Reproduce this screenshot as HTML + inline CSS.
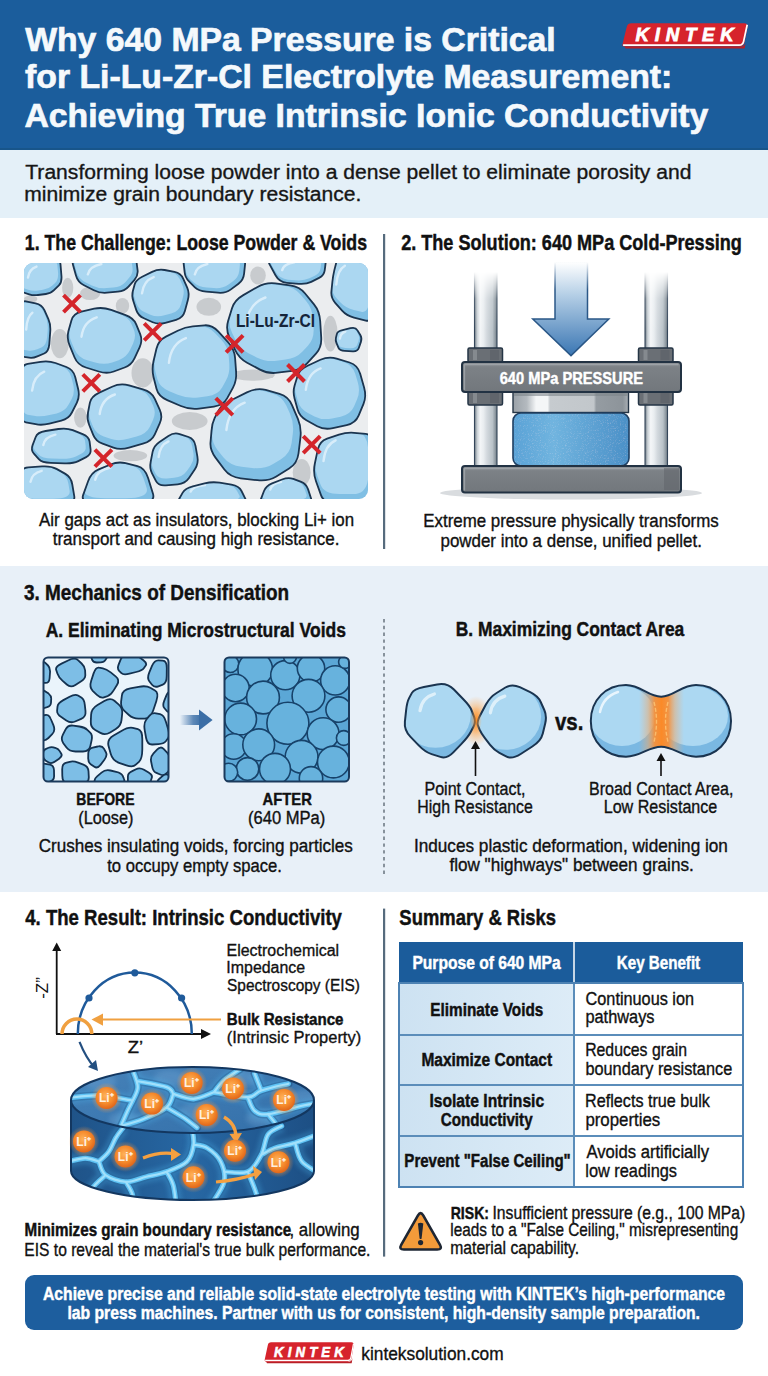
<!DOCTYPE html>
<html><head><meta charset="utf-8"><title>640 MPa Pressure</title>
<style>html,body{margin:0;padding:0;background:#fff;}svg{display:block;}
text{font-family:"Liberation Sans",sans-serif;}</style></head>
<body><svg width="768" height="1376" viewBox="0 0 768 1376">
<defs>
<linearGradient id="pillar" x1="0" y1="0" x2="1" y2="0">
 <stop offset="0" stop-color="#6f7b84"/><stop offset="0.12" stop-color="#c9d0d5"/><stop offset="0.25" stop-color="#f4f6f8"/>
 <stop offset="0.4" stop-color="#e9edf0"/><stop offset="0.55" stop-color="#d3d9de"/><stop offset="0.8" stop-color="#b9c2c8"/><stop offset="0.92" stop-color="#8f9aa2"/><stop offset="1" stop-color="#6a767f"/>
</linearGradient>
<linearGradient id="fadeTop" x1="0" y1="0" x2="0" y2="1">
 <stop offset="0" stop-color="#fff" stop-opacity="0"/><stop offset="0.45" stop-color="#fff" stop-opacity="0.85"/><stop offset="1" stop-color="#fff" stop-opacity="1"/>
</linearGradient>
<mask id="pillarMask" maskUnits="userSpaceOnUse" x="400" y="250" width="300" height="250">
 <rect x="400" y="272" width="300" height="60" fill="url(#fadeTop)"/>
 <rect x="400" y="331" width="300" height="200" fill="#fff"/>
</mask>
<linearGradient id="arrowG" x1="0" y1="0" x2="0" y2="1">
 <stop offset="0" stop-color="#ffffff"/><stop offset="0.35" stop-color="#b5cfe6"/><stop offset="1" stop-color="#3a76b3"/>
</linearGradient>
<linearGradient id="arrowStroke" x1="0" y1="0" x2="0" y2="1">
 <stop offset="0" stop-color="#2a5787" stop-opacity="0"/><stop offset="0.3" stop-color="#2a5787" stop-opacity="1"/><stop offset="1" stop-color="#2a5787"/>
</linearGradient>
<linearGradient id="plateG" x1="0" y1="0" x2="0" y2="1">
 <stop offset="0" stop-color="#8a8f94"/><stop offset="0.2" stop-color="#7c8186"/><stop offset="1" stop-color="#72777c"/>
</linearGradient>
<linearGradient id="dieG" x1="0" y1="0" x2="1" y2="0">
 <stop offset="0" stop-color="#9aa1a7"/><stop offset="0.12" stop-color="#b4babf"/><stop offset="0.2" stop-color="#f4f6f7"/><stop offset="0.3" stop-color="#f4f6f7"/>
 <stop offset="0.32" stop-color="#c6cbcf"/><stop offset="0.7" stop-color="#c2c7cb"/><stop offset="0.72" stop-color="#959ca2"/><stop offset="0.95" stop-color="#8d949a"/><stop offset="1" stop-color="#aab0b5"/>
</linearGradient>
<linearGradient id="pelletG" x1="0" y1="0" x2="1" y2="0">
 <stop offset="0" stop-color="#5aa2d6"/><stop offset="0.35" stop-color="#70b4df"/><stop offset="1" stop-color="#4b90c7"/>
</linearGradient>
<filter id="speckle" x="0" y="0" width="1" height="1">
 <feTurbulence type="fractalNoise" baseFrequency="1.4" numOctaves="1" seed="3" result="n"/>
 <feColorMatrix in="n" type="matrix" values="0 0 0 0 1  0 0 0 0 1  0 0 0 0 1  0 0 0 0.55 -0.3" result="w"/>
 <feComposite in="w" in2="SourceGraphic" operator="in" result="wm"/>
 <feMerge><feMergeNode in="SourceGraphic"/><feMergeNode in="wm"/></feMerge>
</filter>
<linearGradient id="midArrowG" x1="0" y1="0" x2="1" y2="0">
 <stop offset="0" stop-color="#3b6fa8" stop-opacity="0"/><stop offset="0.6" stop-color="#3b6fa8" stop-opacity="0.8"/><stop offset="1" stop-color="#3b6fa8"/>
</linearGradient>
<radialGradient id="glowO" cx="0.5" cy="0.5" r="0.5">
 <stop offset="0" stop-color="#ff8a1e" stop-opacity="0.95"/><stop offset="0.5" stop-color="#ffa040" stop-opacity="0.55"/><stop offset="1" stop-color="#ffb060" stop-opacity="0"/>
</radialGradient>
<linearGradient id="bandO" x1="0" y1="0" x2="1" y2="0">
 <stop offset="0" stop-color="#e8b080" stop-opacity="0"/><stop offset="0.2" stop-color="#eea868" stop-opacity="0.5"/><stop offset="0.35" stop-color="#f5903a" stop-opacity="0.95"/>
 <stop offset="0.5" stop-color="#fb8a28" stop-opacity="1"/><stop offset="0.65" stop-color="#f5903a" stop-opacity="0.95"/><stop offset="0.8" stop-color="#eea868" stop-opacity="0.5"/><stop offset="1" stop-color="#e8b080" stop-opacity="0"/>
</linearGradient>
<linearGradient id="sideG" x1="0" y1="0" x2="1" y2="0">
 <stop offset="0" stop-color="#1f5388"/><stop offset="0.5" stop-color="#2767a3"/><stop offset="1" stop-color="#1d4f84"/>
</linearGradient>
<linearGradient id="topG" x1="0" y1="0" x2="1" y2="1">
 <stop offset="0" stop-color="#4682b9"/><stop offset="1" stop-color="#336fa9"/>
</linearGradient>
<radialGradient id="ionG" cx="0.45" cy="0.4" r="0.6">
 <stop offset="0" stop-color="#ffb35a"/><stop offset="0.6" stop-color="#f58a2c"/><stop offset="1" stop-color="#e0661a"/>
</radialGradient>
<radialGradient id="ionGlow" cx="0.5" cy="0.5" r="0.5">
 <stop offset="0.5" stop-color="#ff9a40" stop-opacity="0.6"/><stop offset="1" stop-color="#ff9a40" stop-opacity="0"/>
</radialGradient>
<filter id="blur1"><feGaussianBlur stdDeviation="1.2"/></filter>
<filter id="blur2"><feGaussianBlur stdDeviation="2.5"/></filter>
<linearGradient id="lobeG" x1="0" y1="0" x2="0" y2="1">
 <stop offset="0" stop-color="#b3dcf3"/><stop offset="0.6" stop-color="#9dcff0"/><stop offset="1" stop-color="#7ab7e0"/>
</linearGradient>
<linearGradient id="hdrCell" x1="0" y1="0" x2="1" y2="0">
 <stop offset="0" stop-color="#cde2f2"/><stop offset="1" stop-color="#ddecf7"/>
</linearGradient>
</defs>
<rect x="0" y="0" width="768" height="1376" fill="#ffffff"/>
<rect x="0" y="0" width="768" height="150" fill="#1b5d9c"/>
<rect x="0" y="148" width="768" height="2" fill="#17507f" opacity="0.6"/>
<rect x="0" y="150" width="768" height="68" fill="#e4f0f8"/>
<rect x="0" y="566" width="768" height="326" fill="#e8f0f8"/>
<text x="25.20" y="50.60" font-size="33.77" font-weight="bold" fill="#f5f9fc" stroke="#f5f9fc" stroke-width="0.7" textLength="530.52" lengthAdjust="spacingAndGlyphs">Why 640 MPa Pressure is Critical</text>
<text x="25.12" y="88.40" font-size="33.77" font-weight="bold" fill="#f5f9fc" stroke="#f5f9fc" stroke-width="0.7" textLength="647.18" lengthAdjust="spacingAndGlyphs">for Li-Lu-Zr-Cl Electrolyte Measurement:</text>
<text x="24.49" y="127.40" font-size="33.77" font-weight="bold" fill="#f5f9fc" stroke="#f5f9fc" stroke-width="0.7" textLength="683.82" lengthAdjust="spacingAndGlyphs">Achieving True Intrinsic Ionic Conductivity</text>
<g transform="translate(622.60,23.30) scale(1.0000,0.9922)"><path d="M9 0 H121.5 Q125.5 0 124.8 4 L122 18.5 Q121.2 23.5 116.5 23.5 H2.2 Q-0.8 23.5 0 20.5 L4.2 3.5 Q5 0 9 0Z" fill="#d6232c"/><path d="M2 23.5 H117.5 Q122.5 23.5 123.3 19 L122 25.5 Q121.5 25.5 117 25.5 H3 Z" fill="#b81f27"/><path d="M0.5 22 H116.5 Q120.3 22 121 18.2 L124.6 1.5" fill="none" stroke="#ffffff" stroke-width="1.7"/><text x="13" y="17.4" font-size="18.6" font-weight="bold" font-style="italic" fill="#fff" stroke="#fff" stroke-width="0.8" textLength="98" lengthAdjust="spacing">KINTEK</text></g>
<text x="25.28" y="179.20" font-size="20.58" font-weight="normal" fill="#161616" stroke="#161616" stroke-width="0.35" textLength="666.19" lengthAdjust="spacingAndGlyphs">Transforming loose powder into a dense pellet to eliminate porosity and</text>
<text x="24.23" y="201.30" font-size="20.58" font-weight="normal" fill="#161616" stroke="#161616" stroke-width="0.35" textLength="337.09" lengthAdjust="spacingAndGlyphs">minimize grain boundary resistance.</text>
<text x="24.84" y="250.00" font-size="22.46" font-weight="bold" fill="#111" stroke="#111" stroke-width="0.45" textLength="342.21" lengthAdjust="spacingAndGlyphs">1. The Challenge: Loose Powder &amp; Voids</text>
<text x="401.16" y="250.00" font-size="22.46" font-weight="bold" fill="#111" stroke="#111" stroke-width="0.45" textLength="340.70" lengthAdjust="spacingAndGlyphs">2. The Solution: 640 MPa Cold-Pressing</text>
<rect x="383" y="234" width="2.2" height="315" fill="#566b7d"/>
<clipPath id="chClip"><rect x="24" y="263" width="344" height="236" rx="9"/></clipPath><g clip-path="url(#chClip)"><rect x="24" y="263" width="344" height="236" fill="#ebedef"/><ellipse cx="67.7" cy="287.8" rx="5.6" ry="10.1" fill="#c8cbce"/><ellipse cx="122.5" cy="305.7" rx="6.7" ry="7.8" fill="#c8cbce"/><ellipse cx="59.8" cy="343.7" rx="9.0" ry="14.6" fill="#c8cbce"/><ellipse cx="208.8" cy="306.8" rx="12.3" ry="9.0" fill="#c8cbce"/><ellipse cx="258.0" cy="275.4" rx="7.8" ry="9.0" fill="#c8cbce"/><ellipse cx="296.1" cy="295.6" rx="7.8" ry="9.0" fill="#c8cbce"/><ellipse cx="142.7" cy="372.9" rx="11.2" ry="14.6" fill="#c8cbce"/><ellipse cx="252.4" cy="375.1" rx="22.4" ry="5.6" fill="#c8cbce"/><ellipse cx="189.7" cy="421.0" rx="17.9" ry="9.0" fill="#c8cbce"/><ellipse cx="80.4" cy="417.6" rx="6.3" ry="10.1" fill="#c8cbce"/><ellipse cx="130.4" cy="455.7" rx="16.8" ry="5.6" fill="#c8cbce"/><ellipse cx="286.5" cy="438.9" rx="6.3" ry="11.2" fill="#c8cbce"/><ellipse cx="330.4" cy="333.7" rx="7.2" ry="17.9" fill="#c8cbce"/><ellipse cx="301.7" cy="472.5" rx="9.0" ry="13.4" fill="#c8cbce"/><ellipse cx="30.7" cy="299.0" rx="6.7" ry="3.4" fill="#c8cbce"/><ellipse cx="90.1" cy="293.4" rx="10.1" ry="6.7" fill="#c8cbce"/><clipPath id="chp0"><path d="M19.5 266.9Q19.5 257.5 30.8 257.5L48.5 257.5Q59.8 257.5 60.5 264.4L61.4 275.3Q62.1 282.2 58.9 285.3L54.0 290.2Q50.9 293.4 45.9 294.0L38.0 295.0Q33.0 295.6 29.2 294.3L23.3 292.4Q19.5 291.1 19.5 281.7Z"/></clipPath><path d="M19.5 266.9Q19.5 257.5 30.8 257.5L48.5 257.5Q59.8 257.5 60.5 264.4L61.4 275.3Q62.1 282.2 58.9 285.3L54.0 290.2Q50.9 293.4 45.9 294.0L38.0 295.0Q33.0 295.6 29.2 294.3L23.3 292.4Q19.5 291.1 19.5 281.7Z" fill="#80bfe4"/><g clip-path="url(#chp0)"><path d="M20.4 268.4Q20.4 258.3 33.1 258.3L44.0 258.3Q56.7 258.3 57.4 265.7L58.0 272.1Q58.7 279.5 55.1 282.9L52.1 285.8Q48.6 289.1 42.9 289.8L38.1 290.4Q32.5 291.1 28.2 289.7L24.6 288.6Q20.4 287.2 20.4 277.1Z" fill="#abd7f1"/><path d="M28.0 277.6 Q29.1 269.1 36.5 266.6" stroke="#e3f3fc" stroke-width="2.4" fill="none" stroke-linecap="round" opacity="0.8"/></g><path d="M19.5 266.9Q19.5 257.5 30.8 257.5L48.5 257.5Q59.8 257.5 60.5 264.4L61.4 275.3Q62.1 282.2 58.9 285.3L54.0 290.2Q50.9 293.4 45.9 294.0L38.0 295.0Q33.0 295.6 29.2 294.3L23.3 292.4Q19.5 291.1 19.5 281.7Z" fill="none" stroke="#1b3550" stroke-width="1.8" stroke-linejoin="round"/><clipPath id="chp1"><path d="M72.9 264.4Q71.0 257.5 89.2 257.5L117.8 257.5Q136.0 257.5 136.6 262.5L137.6 270.4Q138.2 275.4 134.5 279.8L128.5 286.7Q124.8 291.1 117.9 291.7L107.0 292.7Q100.1 293.4 93.9 290.2L84.0 285.3Q77.7 282.2 75.9 275.3Z"/></clipPath><path d="M72.9 264.4Q71.0 257.5 89.2 257.5L117.8 257.5Q136.0 257.5 136.6 262.5L137.6 270.4Q138.2 275.4 134.5 279.8L128.5 286.7Q124.8 291.1 117.9 291.7L107.0 292.7Q100.1 293.4 93.9 290.2L84.0 285.3Q77.7 282.2 75.9 275.3Z" fill="#80bfe4"/><g clip-path="url(#chp1)"><path d="M74.8 265.4Q72.7 258.0 93.2 258.0L110.7 258.0Q131.2 258.0 131.9 263.4L132.5 268.0Q133.2 273.4 128.9 278.1L125.3 282.2Q121.1 286.9 113.3 287.5L106.7 288.1Q98.9 288.8 91.9 285.4L85.8 282.5Q78.8 279.2 76.6 271.8Z" fill="#abd7f1"/><path d="M87.8 274.4 Q89.5 266.3 101.3 264.0" stroke="#e3f3fc" stroke-width="2.4" fill="none" stroke-linecap="round" opacity="0.8"/></g><path d="M72.9 264.4Q71.0 257.5 89.2 257.5L117.8 257.5Q136.0 257.5 136.6 262.5L137.6 270.4Q138.2 275.4 134.5 279.8L128.5 286.7Q124.8 291.1 117.9 291.7L107.0 292.7Q100.1 293.4 93.9 290.2L84.0 285.3Q77.7 282.2 75.9 275.3Z" fill="none" stroke="#1b3550" stroke-width="1.8" stroke-linejoin="round"/><clipPath id="chp2"><path d="M134.7 284.3Q136.0 279.9 142.2 276.8L152.1 271.9Q158.4 268.7 164.6 270.0L174.5 271.9Q180.8 273.2 183.3 278.8L187.2 287.7Q189.7 293.4 187.8 300.3L184.9 311.1Q183.0 318.0 176.1 319.9L165.3 322.8Q158.4 324.7 152.7 322.2L143.9 318.3Q138.2 315.7 136.3 310.1L133.4 301.2Q131.5 295.6 132.8 291.2Z"/></clipPath><path d="M134.7 284.3Q136.0 279.9 142.2 276.8L152.1 271.9Q158.4 268.7 164.6 270.0L174.5 271.9Q180.8 273.2 183.3 278.8L187.2 287.7Q189.7 293.4 187.8 300.3L184.9 311.1Q183.0 318.0 176.1 319.9L165.3 322.8Q158.4 324.7 152.7 322.2L143.9 318.3Q138.2 315.7 136.3 310.1L133.4 301.2Q131.5 295.6 132.8 291.2Z" fill="#80bfe4"/><g clip-path="url(#chp2)"><path d="M135.2 283.5Q136.6 278.8 143.6 275.5L149.7 272.6Q156.7 269.2 163.8 270.5L169.8 271.7Q176.9 273.1 179.7 279.1L182.1 284.3Q185.0 290.4 182.8 297.8L181.0 304.2Q178.9 311.6 171.1 313.6L164.5 315.3Q156.7 317.4 150.4 314.7L144.9 312.3Q138.6 309.6 136.5 303.6L134.7 298.4Q132.6 292.3 134.0 287.6Z" fill="#abd7f1"/><path d="M142.0 293.4 Q143.5 280.8 153.7 277.1" stroke="#e3f3fc" stroke-width="2.4" fill="none" stroke-linecap="round" opacity="0.8"/></g><path d="M134.7 284.3Q136.0 279.9 142.2 276.8L152.1 271.9Q158.4 268.7 164.6 270.0L174.5 271.9Q180.8 273.2 183.3 278.8L187.2 287.7Q189.7 293.4 187.8 300.3L184.9 311.1Q183.0 318.0 176.1 319.9L165.3 322.8Q158.4 324.7 152.7 322.2L143.9 318.3Q138.2 315.7 136.3 310.1L133.4 301.2Q131.5 295.6 132.8 291.2Z" fill="none" stroke="#1b3550" stroke-width="1.8" stroke-linejoin="round"/><clipPath id="chp3"><path d="M183.6 263.2Q183.0 257.5 200.6 257.5L228.2 257.5Q245.7 257.5 245.1 263.8L244.1 273.6Q243.5 279.9 238.5 283.7L230.6 289.6Q225.6 293.4 218.0 292.7L206.2 291.7Q198.7 291.1 194.9 287.4L189.0 281.4Q185.2 277.7 184.6 272.0Z"/></clipPath><path d="M183.6 263.2Q183.0 257.5 200.6 257.5L228.2 257.5Q245.7 257.5 245.1 263.8L244.1 273.6Q243.5 279.9 238.5 283.7L230.6 289.6Q225.6 293.4 218.0 292.7L206.2 291.7Q198.7 291.1 194.9 287.4L189.0 281.4Q185.2 277.7 184.6 272.0Z" fill="#80bfe4"/><g clip-path="url(#chp3)"><path d="M184.9 264.1Q184.2 258.0 203.9 258.0L220.9 258.0Q240.6 258.0 239.9 264.7L239.3 270.5Q238.6 277.2 233.0 281.3L228.1 284.8Q222.5 288.8 214.0 288.1L206.8 287.5Q198.3 286.9 194.1 282.8L190.4 279.4Q186.2 275.3 185.5 269.3Z" fill="#abd7f1"/><path d="M194.8 274.4 Q196.4 266.3 207.3 264.0" stroke="#e3f3fc" stroke-width="2.4" fill="none" stroke-linecap="round" opacity="0.8"/></g><path d="M183.6 263.2Q183.0 257.5 200.6 257.5L228.2 257.5Q245.7 257.5 245.1 263.8L244.1 273.6Q243.5 279.9 238.5 283.7L230.6 289.6Q225.6 293.4 218.0 292.7L206.2 291.7Q198.7 291.1 194.9 287.4L189.0 281.4Q185.2 277.7 184.6 272.0Z" fill="none" stroke="#1b3550" stroke-width="1.8" stroke-linejoin="round"/><clipPath id="chp4"><path d="M269.6 264.4Q265.9 257.5 282.8 257.5L309.4 257.5Q326.3 257.5 325.7 262.5L324.7 270.4Q324.1 275.4 319.1 277.9L311.2 281.9Q306.2 284.4 298.7 283.8L286.8 282.8Q279.3 282.2 275.5 275.3Z"/></clipPath><path d="M269.6 264.4Q265.9 257.5 282.8 257.5L309.4 257.5Q326.3 257.5 325.7 262.5L324.7 270.4Q324.1 275.4 319.1 277.9L311.2 281.9Q306.2 284.4 298.7 283.8L286.8 282.8Q279.3 282.2 275.5 275.3Z" fill="#80bfe4"/><g clip-path="url(#chp4)"><path d="M271.7 265.3Q267.5 257.9 286.6 257.9L302.9 257.9Q321.9 257.9 321.2 263.2L320.6 267.9Q319.9 273.3 314.3 276.0L309.4 278.3Q303.8 281.0 295.3 280.3L288.1 279.7Q279.6 279.0 275.4 271.6Z" fill="#abd7f1"/><path d="M282.2 270.1 Q283.7 264.0 294.3 262.3" stroke="#e3f3fc" stroke-width="2.4" fill="none" stroke-linecap="round" opacity="0.8"/></g><path d="M269.6 264.4Q265.9 257.5 282.8 257.5L309.4 257.5Q326.3 257.5 325.7 262.5L324.7 270.4Q324.1 275.4 319.1 277.9L311.2 281.9Q306.2 284.4 298.7 283.8L286.8 282.8Q279.3 282.2 275.5 275.3Z" fill="none" stroke="#1b3550" stroke-width="1.8" stroke-linejoin="round"/><clipPath id="chp5"><path d="M336.3 262.5Q337.5 257.5 347.6 257.5L363.3 257.5Q373.4 257.5 373.4 275.7L373.4 304.3Q373.4 322.5 365.8 320.6L354.0 317.6Q346.5 315.7 342.1 310.7L335.2 302.8Q330.8 297.8 331.4 291.6L332.4 281.7Q333.1 275.4 334.3 270.4Z"/></clipPath><path d="M336.3 262.5Q337.5 257.5 347.6 257.5L363.3 257.5Q373.4 257.5 373.4 275.7L373.4 304.3Q373.4 322.5 365.8 320.6L354.0 317.6Q346.5 315.7 342.1 310.7L335.2 302.8Q330.8 297.8 331.4 291.6L332.4 281.7Q333.1 275.4 334.3 270.4Z" fill="#80bfe4"/><g clip-path="url(#chp5)"><path d="M336.0 263.2Q337.4 257.9 348.7 257.9L358.4 257.9Q369.7 257.9 369.7 277.4L369.7 294.2Q369.7 313.7 361.2 311.7L353.9 310.0Q345.5 307.9 340.5 302.5L336.3 297.9Q331.4 292.5 332.1 285.8L332.7 280.0Q333.4 273.3 334.8 267.9Z" fill="#abd7f1"/><path d="M336.3 284.5 Q337.4 269.9 344.9 265.7" stroke="#e3f3fc" stroke-width="2.4" fill="none" stroke-linecap="round" opacity="0.8"/></g><path d="M336.3 262.5Q337.5 257.5 347.6 257.5L363.3 257.5Q373.4 257.5 373.4 275.7L373.4 304.3Q373.4 322.5 365.8 320.6L354.0 317.6Q346.5 315.7 342.1 310.7L335.2 302.8Q330.8 297.8 331.4 291.6L332.4 281.7Q333.1 275.4 334.3 270.4Z" fill="none" stroke="#1b3550" stroke-width="1.8" stroke-linejoin="round"/><clipPath id="chp6"><path d="M19.5 315.7Q19.5 300.1 25.8 301.3L35.6 303.3Q41.9 304.6 44.4 310.2L48.4 319.1Q50.9 324.7 50.2 332.2L49.3 344.1Q48.6 351.6 44.2 353.5L37.3 356.4Q33.0 358.3 29.2 357.7L23.3 356.7Q19.5 356.1 19.5 340.4Z"/></clipPath><path d="M19.5 315.7Q19.5 300.1 25.8 301.3L35.6 303.3Q41.9 304.6 44.4 310.2L48.4 319.1Q50.9 324.7 50.2 332.2L49.3 344.1Q48.6 351.6 44.2 353.5L37.3 356.4Q33.0 358.3 29.2 357.7L23.3 356.7Q19.5 356.1 19.5 340.4Z" fill="#80bfe4"/><g clip-path="url(#chp6)"><path d="M20.2 318.0Q20.2 301.1 27.2 302.5L33.3 303.6Q40.3 305.0 43.2 311.0L45.6 316.2Q48.4 322.3 47.7 330.4L47.1 337.3Q46.4 345.4 41.4 347.4L37.2 349.2Q32.3 351.2 28.0 350.5L24.4 349.9Q20.2 349.3 20.2 332.4Z" fill="#abd7f1"/><path d="M26.2 329.6 Q26.9 316.5 32.4 312.7" stroke="#e3f3fc" stroke-width="2.4" fill="none" stroke-linecap="round" opacity="0.8"/></g><path d="M19.5 315.7Q19.5 300.1 25.8 301.3L35.6 303.3Q41.9 304.6 44.4 310.2L48.4 319.1Q50.9 324.7 50.2 332.2L49.3 344.1Q48.6 351.6 44.2 353.5L37.3 356.4Q33.0 358.3 29.2 357.7L23.3 356.7Q19.5 356.1 19.5 340.4Z" fill="none" stroke="#1b3550" stroke-width="1.8" stroke-linejoin="round"/><clipPath id="chp7"><path d="M71.4 320.4Q73.3 313.5 81.4 311.6L94.2 308.7Q102.4 306.8 111.2 309.9L125.0 314.9Q133.7 318.0 136.2 324.3L140.2 334.1Q142.7 340.4 139.6 347.3L134.6 358.1Q131.5 365.0 124.6 367.5L113.8 371.5Q106.9 374.0 98.7 371.5L85.9 367.5Q77.7 365.0 74.6 357.5L69.7 345.7Q66.6 338.1 68.4 331.2Z"/></clipPath><path d="M71.4 320.4Q73.3 313.5 81.4 311.6L94.2 308.7Q102.4 306.8 111.2 309.9L125.0 314.9Q133.7 318.0 136.2 324.3L140.2 334.1Q142.7 340.4 139.6 347.3L134.6 358.1Q131.5 365.0 124.6 367.5L113.8 371.5Q106.9 374.0 98.7 371.5L85.9 367.5Q77.7 365.0 74.6 357.5L69.7 345.7Q66.6 338.1 68.4 331.2Z" fill="#80bfe4"/><g clip-path="url(#chp7)"><path d="M72.0 320.6Q74.1 313.2 83.3 311.2L91.1 309.4Q100.3 307.4 110.2 310.8L118.6 313.7Q128.5 317.1 131.3 323.8L133.8 329.6Q136.6 336.3 133.0 343.7L130.0 350.1Q126.5 357.5 118.7 360.2L112.1 362.5Q104.3 365.2 95.2 362.5L87.3 360.2Q78.1 357.5 74.6 349.4L71.6 342.5Q68.0 334.4 70.2 327.0Z" fill="#abd7f1"/><path d="M81.5 336.7 Q83.4 321.6 96.7 317.3" stroke="#e3f3fc" stroke-width="2.4" fill="none" stroke-linecap="round" opacity="0.8"/></g><path d="M71.4 320.4Q73.3 313.5 81.4 311.6L94.2 308.7Q102.4 306.8 111.2 309.9L125.0 314.9Q133.7 318.0 136.2 324.3L140.2 334.1Q142.7 340.4 139.6 347.3L134.6 358.1Q131.5 365.0 124.6 367.5L113.8 371.5Q106.9 374.0 98.7 371.5L85.9 367.5Q77.7 365.0 74.6 357.5L69.7 345.7Q66.6 338.1 68.4 331.2Z" fill="none" stroke="#1b3550" stroke-width="1.8" stroke-linejoin="round"/><clipPath id="chp8"><path d="M232.0 308.2Q234.5 300.1 243.3 295.1L257.1 287.2Q265.9 282.2 275.3 283.4L290.1 285.4Q299.5 286.6 305.1 293.5L314.0 304.4Q319.6 311.3 320.2 321.3L321.2 337.1Q321.9 347.1 316.2 353.4L307.3 363.2Q301.7 369.5 292.3 370.8L277.5 372.7Q268.1 374.0 260.0 369.6L247.1 362.7Q239.0 358.3 235.2 350.1L229.3 337.3Q225.6 329.2 228.1 321.0Z"/></clipPath><path d="M232.0 308.2Q234.5 300.1 243.3 295.1L257.1 287.2Q265.9 282.2 275.3 283.4L290.1 285.4Q299.5 286.6 305.1 293.5L314.0 304.4Q319.6 311.3 320.2 321.3L321.2 337.1Q321.9 347.1 316.2 353.4L307.3 363.2Q301.7 369.5 292.3 370.8L277.5 372.7Q268.1 374.0 260.0 369.6L247.1 362.7Q239.0 358.3 235.2 350.1L229.3 337.3Q225.6 329.2 228.1 321.0Z" fill="#80bfe4"/><g clip-path="url(#chp8)"><path d="M232.9 307.3Q235.7 298.6 245.6 293.2L254.0 288.6Q263.9 283.2 274.5 284.5L283.6 285.7Q294.1 287.0 300.5 294.4L305.9 300.8Q312.3 308.2 313.0 319.0L313.6 328.2Q314.3 339.0 307.9 345.8L302.5 351.5Q296.2 358.3 285.6 359.6L276.5 360.8Q265.9 362.1 256.7 357.4L248.9 353.4Q239.7 348.6 235.5 339.9L231.9 332.4Q227.6 323.6 230.4 314.8Z" fill="#abd7f1"/><path d="M246.2 324.1 Q248.6 303.4 265.4 297.5" stroke="#e3f3fc" stroke-width="2.4" fill="none" stroke-linecap="round" opacity="0.8"/></g><path d="M232.0 308.2Q234.5 300.1 243.3 295.1L257.1 287.2Q265.9 282.2 275.3 283.4L290.1 285.4Q299.5 286.6 305.1 293.5L314.0 304.4Q319.6 311.3 320.2 321.3L321.2 337.1Q321.9 347.1 316.2 353.4L307.3 363.2Q301.7 369.5 292.3 370.8L277.5 372.7Q268.1 374.0 260.0 369.6L247.1 362.7Q239.0 358.3 235.2 350.1L229.3 337.3Q225.6 329.2 228.1 321.0Z" fill="none" stroke="#1b3550" stroke-width="1.8" stroke-linejoin="round"/><clipPath id="chp9"><path d="M336.9 333.9Q337.5 331.4 342.6 330.2L350.4 328.2Q355.5 326.9 357.3 330.1L360.3 335.0Q362.2 338.1 360.9 341.9L358.9 347.8Q357.7 351.6 352.7 351.3L344.8 350.9Q339.8 350.7 338.5 347.8L336.6 343.3Q335.3 340.4 335.9 337.9Z"/></clipPath><path d="M336.9 333.9Q337.5 331.4 342.6 330.2L350.4 328.2Q355.5 326.9 357.3 330.1L360.3 335.0Q362.2 338.1 360.9 341.9L358.9 347.8Q357.7 351.6 352.7 351.3L344.8 350.9Q339.8 350.7 338.5 347.8L336.6 343.3Q335.3 340.4 335.9 337.9Z" fill="#80bfe4"/><g clip-path="url(#chp9)"><path d="M337.1 333.8Q337.8 331.1 343.4 329.8L348.3 328.6Q353.9 327.3 356.0 330.6L357.8 333.5Q359.9 336.9 358.5 341.0L357.3 344.4Q355.9 348.5 350.3 348.2L345.4 348.0Q339.8 347.7 338.4 344.6L337.2 341.9Q335.8 338.8 336.5 336.1Z" fill="#abd7f1"/><path d="M339.9 338.6 Q340.6 333.1 345.3 331.5" stroke="#e3f3fc" stroke-width="2.4" fill="none" stroke-linecap="round" opacity="0.8"/></g><path d="M336.9 333.9Q337.5 331.4 342.6 330.2L350.4 328.2Q355.5 326.9 357.3 330.1L360.3 335.0Q362.2 338.1 360.9 341.9L358.9 347.8Q357.7 351.6 352.7 351.3L344.8 350.9Q339.8 350.7 338.5 347.8L336.6 343.3Q335.3 340.4 335.9 337.9Z" fill="none" stroke="#1b3550" stroke-width="1.8" stroke-linejoin="round"/><clipPath id="chp10"><path d="M156.5 348.5Q158.4 340.4 165.9 336.6L177.7 330.7Q185.2 326.9 192.8 326.3L204.6 325.3Q212.1 324.7 218.4 331.6L228.2 342.4Q234.5 349.3 235.1 358.1L236.1 371.9Q236.8 380.7 233.0 387.6L227.1 398.4Q223.3 405.3 213.9 406.6L199.1 408.6Q189.7 409.8 180.9 406.0L167.2 400.1Q158.4 396.4 156.5 388.8L153.5 377.0Q151.7 369.5 153.5 361.3Z"/></clipPath><path d="M156.5 348.5Q158.4 340.4 165.9 336.6L177.7 330.7Q185.2 326.9 192.8 326.3L204.6 325.3Q212.1 324.7 218.4 331.6L228.2 342.4Q234.5 349.3 235.1 358.1L236.1 371.9Q236.8 380.7 233.0 387.6L227.1 398.4Q223.3 405.3 213.9 406.6L199.1 408.6Q189.7 409.8 180.9 406.0L167.2 400.1Q158.4 396.4 156.5 388.8L153.5 377.0Q151.7 369.5 153.5 361.3Z" fill="#80bfe4"/><g clip-path="url(#chp10)"><path d="M157.3 347.8Q159.4 339.0 167.9 335.0L175.1 331.5Q183.6 327.4 192.1 326.8L199.3 326.2Q207.8 325.5 214.9 332.9L220.9 339.3Q228.0 346.7 228.7 356.1L229.3 364.2Q230.0 373.7 225.7 381.1L222.1 387.4Q217.9 394.9 207.3 396.2L198.2 397.4Q187.6 398.7 177.8 394.7L169.3 391.2Q159.4 387.2 157.3 379.1L155.5 372.1Q153.4 364.0 155.5 355.3Z" fill="#abd7f1"/><path d="M168.9 362.8 Q171.1 343.6 185.9 338.1" stroke="#e3f3fc" stroke-width="2.4" fill="none" stroke-linecap="round" opacity="0.8"/></g><path d="M156.5 348.5Q158.4 340.4 165.9 336.6L177.7 330.7Q185.2 326.9 192.8 326.3L204.6 325.3Q212.1 324.7 218.4 331.6L228.2 342.4Q234.5 349.3 235.1 358.1L236.1 371.9Q236.8 380.7 233.0 387.6L227.1 398.4Q223.3 405.3 213.9 406.6L199.1 408.6Q189.7 409.8 180.9 406.0L167.2 400.1Q158.4 396.4 156.5 388.8L153.5 377.0Q151.7 369.5 153.5 361.3Z" fill="none" stroke="#1b3550" stroke-width="1.8" stroke-linejoin="round"/><clipPath id="chp11"><path d="M19.5 380.7Q19.5 365.0 27.7 363.8L40.5 361.8Q48.6 360.5 55.5 363.0L66.4 367.0Q73.3 369.5 75.2 377.0L78.1 388.8Q80.0 396.4 76.9 402.6L71.9 412.5Q68.8 418.8 61.3 420.6L49.4 423.6Q41.9 425.5 35.6 424.2L25.8 422.3Q19.5 421.0 19.5 405.3Z"/></clipPath><path d="M19.5 380.7Q19.5 365.0 27.7 363.8L40.5 361.8Q48.6 360.5 55.5 363.0L66.4 367.0Q73.3 369.5 75.2 377.0L78.1 388.8Q80.0 396.4 76.9 402.6L71.9 412.5Q68.8 418.8 61.3 420.6L49.4 423.6Q41.9 425.5 35.6 424.2L25.8 422.3Q19.5 421.0 19.5 405.3Z" fill="#80bfe4"/><g clip-path="url(#chp11)"><path d="M20.8 382.0Q20.8 365.2 29.9 363.8L37.8 362.6Q47.0 361.3 54.7 364.0L61.4 366.3Q69.2 369.0 71.3 377.1L73.1 384.0Q75.2 392.1 71.7 398.9L68.6 404.6Q65.1 411.4 56.7 413.4L49.4 415.1Q40.9 417.2 33.9 415.8L27.8 414.7Q20.8 413.3 20.8 396.5Z" fill="#abd7f1"/><path d="M32.1 390.6 Q33.6 376.0 44.2 371.7" stroke="#e3f3fc" stroke-width="2.4" fill="none" stroke-linecap="round" opacity="0.8"/></g><path d="M19.5 380.7Q19.5 365.0 27.7 363.8L40.5 361.8Q48.6 360.5 55.5 363.0L66.4 367.0Q73.3 369.5 75.2 377.0L78.1 388.8Q80.0 396.4 76.9 402.6L71.9 412.5Q68.8 418.8 61.3 420.6L49.4 423.6Q41.9 425.5 35.6 424.2L25.8 422.3Q19.5 421.0 19.5 405.3Z" fill="none" stroke="#1b3550" stroke-width="1.8" stroke-linejoin="round"/><clipPath id="chp12"><path d="M89.9 402.6Q91.2 396.4 99.3 392.6L112.1 386.7Q120.3 382.9 129.1 385.4L142.9 389.4Q151.7 391.9 154.8 398.8L159.7 409.6Q162.9 416.5 159.7 423.4L154.8 434.3Q151.7 441.2 142.9 443.7L129.1 447.6Q120.3 450.1 113.4 447.6L102.6 443.7Q95.7 441.2 93.2 434.9L89.2 425.0Q86.7 418.8 88.0 412.5Z"/></clipPath><path d="M89.9 402.6Q91.2 396.4 99.3 392.6L112.1 386.7Q120.3 382.9 129.1 385.4L142.9 389.4Q151.7 391.9 154.8 398.8L159.7 409.6Q162.9 416.5 159.7 423.4L154.8 434.3Q151.7 441.2 142.9 443.7L129.1 447.6Q120.3 450.1 113.4 447.6L102.6 443.7Q95.7 441.2 93.2 434.9L89.2 425.0Q86.7 418.8 88.0 412.5Z" fill="#80bfe4"/><g clip-path="url(#chp12)"><path d="M90.6 402.0Q92.0 395.3 101.2 391.2L109.1 387.8Q118.2 383.7 128.1 386.4L136.6 388.7Q146.5 391.4 150.0 398.8L153.0 405.2Q156.5 412.6 153.0 420.0L150.0 426.4Q146.5 433.8 136.6 436.5L128.1 438.8Q118.2 441.5 110.5 438.8L103.8 436.5Q96.1 433.8 93.2 427.1L90.8 421.3Q88.0 414.5 89.4 407.8Z" fill="#abd7f1"/><path d="M99.7 414.0 Q101.6 398.9 114.9 394.5" stroke="#e3f3fc" stroke-width="2.4" fill="none" stroke-linecap="round" opacity="0.8"/></g><path d="M89.9 402.6Q91.2 396.4 99.3 392.6L112.1 386.7Q120.3 382.9 129.1 385.4L142.9 389.4Q151.7 391.9 154.8 398.8L159.7 409.6Q162.9 416.5 159.7 423.4L154.8 434.3Q151.7 441.2 142.9 443.7L129.1 447.6Q120.3 450.1 113.4 447.6L102.6 443.7Q95.7 441.2 93.2 434.9L89.2 425.0Q86.7 418.8 88.0 412.5Z" fill="none" stroke="#1b3550" stroke-width="1.8" stroke-linejoin="round"/><clipPath id="chp13"><path d="M297.6 375.8Q299.5 369.5 307.6 365.7L320.4 359.8Q328.6 356.1 336.7 358.6L349.5 362.5Q357.7 365.0 360.2 373.8L364.1 387.6Q366.6 396.4 363.5 403.9L358.6 415.7Q355.5 423.2 346.7 425.1L332.9 428.1Q324.1 430.0 317.2 426.2L306.4 420.3Q299.5 416.5 297.6 409.6L294.6 398.8Q292.7 391.9 294.6 385.6Z"/></clipPath><path d="M297.6 375.8Q299.5 369.5 307.6 365.7L320.4 359.8Q328.6 356.1 336.7 358.6L349.5 362.5Q357.7 365.0 360.2 373.8L364.1 387.6Q366.6 396.4 363.5 403.9L358.6 415.7Q355.5 423.2 346.7 425.1L332.9 428.1Q324.1 430.0 317.2 426.2L306.4 420.3Q299.5 416.5 297.6 409.6L294.6 398.8Q292.7 391.9 294.6 385.6Z" fill="#80bfe4"/><g clip-path="url(#chp13)"><path d="M298.0 375.2Q300.1 368.4 309.3 364.4L317.1 360.9Q326.3 356.9 335.5 359.6L343.3 361.9Q352.5 364.6 355.3 374.0L357.7 382.1Q360.6 391.5 357.0 399.6L354.0 406.6Q350.5 414.7 340.6 416.7L332.1 418.4Q322.3 420.4 314.5 416.4L307.9 412.9Q300.1 408.9 298.0 401.5L296.2 395.1Q294.1 387.7 296.2 381.0Z" fill="#abd7f1"/><path d="M305.8 389.9 Q307.7 373.2 320.6 368.4" stroke="#e3f3fc" stroke-width="2.4" fill="none" stroke-linecap="round" opacity="0.8"/></g><path d="M297.6 375.8Q299.5 369.5 307.6 365.7L320.4 359.8Q328.6 356.1 336.7 358.6L349.5 362.5Q357.7 365.0 360.2 373.8L364.1 387.6Q366.6 396.4 363.5 403.9L358.6 415.7Q355.5 423.2 346.7 425.1L332.9 428.1Q324.1 430.0 317.2 426.2L306.4 420.3Q299.5 416.5 297.6 409.6L294.6 398.8Q292.7 391.9 294.6 385.6Z" fill="none" stroke="#1b3550" stroke-width="1.8" stroke-linejoin="round"/><clipPath id="chp14"><path d="M218.6 410.3Q221.1 405.3 231.1 400.3L246.9 392.4Q256.9 387.4 265.7 389.9L279.5 393.9Q288.3 396.4 292.0 405.2L297.9 418.9Q301.7 427.7 300.4 437.8L298.5 453.5Q297.2 463.6 289.1 468.6L276.3 476.5Q268.1 481.5 257.4 480.2L240.7 478.3Q230.0 477.0 224.4 469.5L215.5 457.6Q209.9 450.1 210.5 442.6L211.5 430.8Q212.1 423.2 214.6 418.2Z"/></clipPath><path d="M218.6 410.3Q221.1 405.3 231.1 400.3L246.9 392.4Q256.9 387.4 265.7 389.9L279.5 393.9Q288.3 396.4 292.0 405.2L297.9 418.9Q301.7 427.7 300.4 437.8L298.5 453.5Q297.2 463.6 289.1 468.6L276.3 476.5Q268.1 481.5 257.4 480.2L240.7 478.3Q230.0 477.0 224.4 469.5L215.5 457.6Q209.9 450.1 210.5 442.6L211.5 430.8Q212.1 423.2 214.6 418.2Z" fill="#80bfe4"/><g clip-path="url(#chp14)"><path d="M218.8 409.2Q221.6 403.8 232.9 398.4L242.6 393.8Q253.9 388.4 263.7 391.1L272.2 393.4Q282.1 396.1 286.3 405.5L289.9 413.6Q294.2 423.1 292.8 433.8L291.6 443.1Q290.1 453.9 281.0 459.3L273.1 463.9Q263.9 469.3 251.9 467.9L241.7 466.8Q229.7 465.4 223.3 457.3L217.9 450.4Q211.5 442.3 212.2 434.2L212.8 427.3Q213.5 419.2 216.4 413.8Z" fill="#abd7f1"/><path d="M226.4 430.0 Q228.7 408.8 244.7 402.7" stroke="#e3f3fc" stroke-width="2.4" fill="none" stroke-linecap="round" opacity="0.8"/></g><path d="M218.6 410.3Q221.1 405.3 231.1 400.3L246.9 392.4Q256.9 387.4 265.7 389.9L279.5 393.9Q288.3 396.4 292.0 405.2L297.9 418.9Q301.7 427.7 300.4 437.8L298.5 453.5Q297.2 463.6 289.1 468.6L276.3 476.5Q268.1 481.5 257.4 480.2L240.7 478.3Q230.0 477.0 224.4 469.5L215.5 457.6Q209.9 450.1 210.5 442.6L211.5 430.8Q212.1 423.2 214.6 418.2Z" fill="none" stroke="#1b3550" stroke-width="1.8" stroke-linejoin="round"/><clipPath id="chp15"><path d="M35.6 437.2Q37.4 432.2 45.6 431.0L58.4 429.0Q66.6 427.7 72.8 430.2L82.7 434.2Q88.9 436.7 89.6 441.7L90.6 449.6Q91.2 454.6 86.2 457.1L78.3 461.1Q73.3 463.6 64.5 463.3L50.7 462.9Q41.9 462.7 38.8 459.2L33.9 453.6Q30.7 450.1 32.6 445.1Z"/></clipPath><path d="M35.6 437.2Q37.4 432.2 45.6 431.0L58.4 429.0Q66.6 427.7 72.8 430.2L82.7 434.2Q88.9 436.7 89.6 441.7L90.6 449.6Q91.2 454.6 86.2 457.1L78.3 461.1Q73.3 463.6 64.5 463.3L50.7 462.9Q41.9 462.7 38.8 459.2L33.9 453.6Q30.7 450.1 32.6 445.1Z" fill="#80bfe4"/><g clip-path="url(#chp15)"><path d="M35.9 437.5Q38.0 432.1 47.2 430.7L55.1 429.6Q64.2 428.2 71.3 430.9L77.3 433.3Q84.4 435.9 85.1 441.3L85.7 446.0Q86.4 451.4 80.8 454.1L75.9 456.4Q70.3 459.1 60.4 458.8L51.9 458.6Q42.1 458.3 38.5 454.5L35.5 451.3Q32.0 447.5 34.1 442.1Z" fill="#abd7f1"/><path d="M43.3 445.0 Q44.8 436.9 55.4 434.6" stroke="#e3f3fc" stroke-width="2.4" fill="none" stroke-linecap="round" opacity="0.8"/></g><path d="M35.6 437.2Q37.4 432.2 45.6 431.0L58.4 429.0Q66.6 427.7 72.8 430.2L82.7 434.2Q88.9 436.7 89.6 441.7L90.6 449.6Q91.2 454.6 86.2 457.1L78.3 461.1Q73.3 463.6 64.5 463.3L50.7 462.9Q41.9 462.7 38.8 459.2L33.9 453.6Q30.7 450.1 32.6 445.1Z" fill="none" stroke="#1b3550" stroke-width="1.8" stroke-linejoin="round"/><clipPath id="chp16"><path d="M152.6 451.9Q153.9 445.6 159.5 441.9L168.4 436.0Q174.0 432.2 179.7 434.1L188.6 437.0Q194.2 438.9 195.5 445.8L197.4 456.7Q198.7 463.6 194.9 469.2L189.0 478.1Q185.2 483.7 177.7 484.3L165.9 485.3Q158.4 486.0 155.9 480.9L151.9 473.1Q149.4 468.0 150.7 461.8Z"/></clipPath><path d="M152.6 451.9Q153.9 445.6 159.5 441.9L168.4 436.0Q174.0 432.2 179.7 434.1L188.6 437.0Q194.2 438.9 195.5 445.8L197.4 456.7Q198.7 463.6 194.9 469.2L189.0 478.1Q185.2 483.7 177.7 484.3L165.9 485.3Q158.4 486.0 155.9 480.9L151.9 473.1Q149.4 468.0 150.7 461.8Z" fill="#80bfe4"/><g clip-path="url(#chp16)"><path d="M153.0 451.1Q154.4 444.4 160.7 440.3L166.2 436.9Q172.5 432.8 178.9 434.9L184.3 436.6Q190.6 438.6 192.1 446.0L193.3 452.4Q194.7 459.8 190.4 465.9L186.8 471.1Q182.6 477.1 174.1 477.8L166.9 478.4Q158.4 479.1 155.6 473.7L153.2 469.0Q150.3 463.6 151.7 456.9Z" fill="#abd7f1"/><path d="M158.6 457.0 Q159.9 444.9 168.5 441.4" stroke="#e3f3fc" stroke-width="2.4" fill="none" stroke-linecap="round" opacity="0.8"/></g><path d="M152.6 451.9Q153.9 445.6 159.5 441.9L168.4 436.0Q174.0 432.2 179.7 434.1L188.6 437.0Q194.2 438.9 195.5 445.8L197.4 456.7Q198.7 463.6 194.9 469.2L189.0 478.1Q185.2 483.7 177.7 484.3L165.9 485.3Q158.4 486.0 155.9 480.9L151.9 473.1Q149.4 468.0 150.7 461.8Z" fill="none" stroke="#1b3550" stroke-width="1.8" stroke-linejoin="round"/><clipPath id="chp17"><path d="M317.7 449.9Q319.6 441.2 327.1 438.7L339.0 434.7Q346.5 432.2 354.0 432.8L365.8 433.8Q373.4 434.4 373.4 453.9L373.4 484.4Q373.4 503.9 359.6 503.9L337.9 503.9Q324.1 503.9 321.0 495.1L316.0 481.3Q312.9 472.5 314.8 463.7Z"/></clipPath><path d="M317.7 449.9Q319.6 441.2 327.1 438.7L339.0 434.7Q346.5 432.2 354.0 432.8L365.8 433.8Q373.4 434.4 373.4 453.9L373.4 484.4Q373.4 503.9 359.6 503.9L337.9 503.9Q324.1 503.9 321.0 495.1L316.0 481.3Q312.9 472.5 314.8 463.7Z" fill="#80bfe4"/><g clip-path="url(#chp17)"><path d="M317.9 449.6Q320.0 440.2 328.5 437.5L335.7 435.1Q344.2 432.5 352.7 433.1L359.9 433.7Q368.4 434.4 368.4 455.3L368.4 473.2Q368.4 494.1 352.9 494.1L339.6 494.1Q324.0 494.1 320.5 484.6L317.5 476.6Q314.0 467.1 316.1 457.7Z" fill="#abd7f1"/><path d="M323.5 461.1 Q325.0 445.0 335.6 440.3" stroke="#e3f3fc" stroke-width="2.4" fill="none" stroke-linecap="round" opacity="0.8"/></g><path d="M317.7 449.9Q319.6 441.2 327.1 438.7L339.0 434.7Q346.5 432.2 354.0 432.8L365.8 433.8Q373.4 434.4 373.4 453.9L373.4 484.4Q373.4 503.9 359.6 503.9L337.9 503.9Q324.1 503.9 321.0 495.1L316.0 481.3Q312.9 472.5 314.8 463.7Z" fill="none" stroke="#1b3550" stroke-width="1.8" stroke-linejoin="round"/><clipPath id="chp18"><path d="M19.5 478.1Q19.5 468.0 28.3 467.4L42.1 466.4Q50.9 465.8 56.5 468.9L65.4 473.9Q71.0 477.0 72.3 484.5L74.3 496.3Q75.5 503.9 59.8 503.9L35.2 503.9Q19.5 503.9 19.5 493.8Z"/></clipPath><path d="M19.5 478.1Q19.5 468.0 28.3 467.4L42.1 466.4Q50.9 465.8 56.5 468.9L65.4 473.9Q71.0 477.0 72.3 484.5L74.3 496.3Q75.5 503.9 59.8 503.9L35.2 503.9Q19.5 503.9 19.5 493.8Z" fill="#80bfe4"/><g clip-path="url(#chp18)"><path d="M20.6 478.7Q20.6 467.9 30.5 467.3L39.0 466.7Q48.8 466.0 55.2 469.4L60.6 472.3Q67.0 475.7 68.4 483.7L69.6 490.7Q71.0 498.8 53.4 498.8L38.3 498.8Q20.6 498.8 20.6 488.0Z" fill="#abd7f1"/><path d="M30.5 481.8 Q31.9 473.2 41.7 470.8" stroke="#e3f3fc" stroke-width="2.4" fill="none" stroke-linecap="round" opacity="0.8"/></g><path d="M19.5 478.1Q19.5 468.0 28.3 467.4L42.1 466.4Q50.9 465.8 56.5 468.9L65.4 473.9Q71.0 477.0 72.3 484.5L74.3 496.3Q75.5 503.9 59.8 503.9L35.2 503.9Q19.5 503.9 19.5 493.8Z" fill="none" stroke="#1b3550" stroke-width="1.8" stroke-linejoin="round"/><clipPath id="chp19"><path d="M88.1 481.3Q91.2 472.5 98.7 469.4L110.5 464.5Q118.1 461.3 125.6 463.2L137.4 466.2Q144.9 468.0 148.1 478.1L153.0 493.8Q156.1 503.9 134.8 503.9L101.3 503.9Q80.0 503.9 83.1 495.1Z"/></clipPath><path d="M88.1 481.3Q91.2 472.5 98.7 469.4L110.5 464.5Q118.1 461.3 125.6 463.2L137.4 466.2Q144.9 468.0 148.1 478.1L153.0 493.8Q156.1 503.9 134.8 503.9L101.3 503.9Q80.0 503.9 83.1 495.1Z" fill="#80bfe4"/><g clip-path="url(#chp19)"><path d="M88.1 480.7Q91.6 471.3 100.1 467.9L107.3 465.0Q115.8 461.7 124.2 463.7L131.5 465.4Q140.0 467.4 143.5 478.2L146.5 487.5Q150.0 498.2 126.1 498.2L105.5 498.2Q81.5 498.2 85.0 488.8Z" fill="#abd7f1"/><path d="M95.2 479.8 Q97.1 470.2 110.4 467.5" stroke="#e3f3fc" stroke-width="2.4" fill="none" stroke-linecap="round" opacity="0.8"/></g><path d="M88.1 481.3Q91.2 472.5 98.7 469.4L110.5 464.5Q118.1 461.3 125.6 463.2L137.4 466.2Q144.9 468.0 148.1 478.1L153.0 493.8Q156.1 503.9 134.8 503.9L101.3 503.9Q80.0 503.9 83.1 495.1Z" fill="none" stroke="#1b3550" stroke-width="1.8" stroke-linejoin="round"/><clipPath id="chp20"><path d="M182.7 492.6Q185.2 488.2 192.8 486.3L204.6 483.4Q212.1 481.5 219.6 482.7L231.5 484.7Q239.0 486.0 241.5 491.0L245.4 498.9Q248.0 503.9 227.9 503.9L196.4 503.9Q176.3 503.9 178.8 499.5Z"/></clipPath><path d="M182.7 492.6Q185.2 488.2 192.8 486.3L204.6 483.4Q212.1 481.5 219.6 482.7L231.5 484.7Q239.0 486.0 241.5 491.0L245.4 498.9Q248.0 503.9 227.9 503.9L196.4 503.9Q176.3 503.9 178.8 499.5Z" fill="#80bfe4"/><g clip-path="url(#chp20)"><path d="M183.0 492.2Q185.8 487.5 194.2 485.5L201.5 483.7Q210.0 481.7 218.4 483.0L225.7 484.2Q234.2 485.6 237.0 490.9L239.4 495.6Q242.2 501.0 219.6 501.0L200.3 501.0Q177.7 501.0 180.5 496.2Z" fill="#abd7f1"/><path d="M190.6 491.6 Q192.4 486.5 205.0 485.1" stroke="#e3f3fc" stroke-width="2.4" fill="none" stroke-linecap="round" opacity="0.8"/></g><path d="M182.7 492.6Q185.2 488.2 192.8 486.3L204.6 483.4Q212.1 481.5 219.6 482.7L231.5 484.7Q239.0 486.0 241.5 491.0L245.4 498.9Q248.0 503.9 227.9 503.9L196.4 503.9Q176.3 503.9 178.8 499.5Z" fill="none" stroke="#1b3550" stroke-width="1.8" stroke-linejoin="round"/><clipPath id="chp21"><path d="M264.0 491.0Q265.9 486.0 272.1 483.4L282.0 479.5Q288.3 477.0 293.3 478.9L301.2 481.8Q306.2 483.7 308.1 489.4L311.0 498.2Q312.9 503.9 297.9 503.9L274.2 503.9Q259.2 503.9 261.0 498.9Z"/></clipPath><path d="M264.0 491.0Q265.9 486.0 272.1 483.4L282.0 479.5Q288.3 477.0 293.3 478.9L301.2 481.8Q306.2 483.7 308.1 489.4L311.0 498.2Q312.9 503.9 297.9 503.9L274.2 503.9Q259.2 503.9 261.0 498.9Z" fill="#80bfe4"/><g clip-path="url(#chp21)"><path d="M264.2 490.4Q266.3 485.0 273.4 482.3L279.4 480.0Q286.5 477.3 292.1 479.3L297.0 481.1Q302.6 483.1 304.7 489.2L306.5 494.4Q308.6 500.4 291.7 500.4L277.2 500.4Q260.3 500.4 262.4 495.0Z" fill="#abd7f1"/><path d="M270.3 489.5 Q271.7 483.5 281.1 481.7" stroke="#e3f3fc" stroke-width="2.4" fill="none" stroke-linecap="round" opacity="0.8"/></g><path d="M264.0 491.0Q265.9 486.0 272.1 483.4L282.0 479.5Q288.3 477.0 293.3 478.9L301.2 481.8Q306.2 483.7 308.1 489.4L311.0 498.2Q312.9 503.9 297.9 503.9L274.2 503.9Q259.2 503.9 261.0 498.9Z" fill="none" stroke="#1b3550" stroke-width="1.8" stroke-linejoin="round"/><path d="M63.5 295.1 L80.5 312.1 M80.5 295.1 L63.5 312.1" stroke="#d4252b" stroke-width="4"/><path d="M144.2 323.3 L161.2 340.3 M161.2 323.3 L144.2 340.3" stroke="#d4252b" stroke-width="4"/><path d="M82.8 374.3 L99.8 391.3 M99.8 374.3 L82.8 391.3" stroke="#d4252b" stroke-width="4"/><path d="M226.1 335.4 L243.1 352.4 M243.1 335.4 L226.1 352.4" stroke="#d4252b" stroke-width="4"/><path d="M287.5 364.5 L304.5 381.5 M304.5 364.5 L287.5 381.5" stroke="#d4252b" stroke-width="4"/><path d="M215.8 398.1 L232.8 415.1 M232.8 398.1 L215.8 415.1" stroke="#d4252b" stroke-width="4"/><path d="M94.9 449.6 L111.9 466.6 M111.9 449.6 L94.9 466.6" stroke="#d4252b" stroke-width="4"/><path d="M303.2 436.1 L320.2 453.1 M320.2 436.1 L303.2 453.1" stroke="#d4252b" stroke-width="4"/></g><text x="235.92" y="327.00" font-size="18.84" font-weight="bold" fill="#14243a" stroke="#14243a" stroke-width="0.1" textLength="79.15" lengthAdjust="spacingAndGlyphs">Li-Lu-Zr-Cl</text>
<ellipse cx="571" cy="493" rx="131" ry="6.5" fill="#d9dcdf"/><g mask="url(#pillarMask)"><rect x="474.5" y="270" width="22.5" height="200" fill="url(#pillar)" stroke="#34465a" stroke-width="1.1"/><rect x="645" y="270" width="22.5" height="200" fill="url(#pillar)" stroke="#34465a" stroke-width="1.1"/></g><path d="M555 262 H587.5 V319 H608.8 L571 355.6 L532.8 319 H555 Z" fill="url(#arrowG)" stroke="url(#arrowStroke)" stroke-width="1.5"/><rect x="468" y="348" width="34.5" height="14" rx="1.5" fill="#6a6f75" stroke="#253545" stroke-width="1.5"/><rect x="473" y="350" width="4" height="10" fill="#8c9196" opacity="0.8"/><rect x="490" y="350" width="9" height="10" fill="#5a5f65" opacity="0.6"/><rect x="468" y="391" width="34.5" height="14" rx="1.5" fill="#6a6f75" stroke="#253545" stroke-width="1.5"/><rect x="473" y="393" width="4" height="10" fill="#8c9196" opacity="0.8"/><rect x="490" y="393" width="9" height="10" fill="#5a5f65" opacity="0.6"/><rect x="638.5" y="348" width="34.5" height="14" rx="1.5" fill="#6a6f75" stroke="#253545" stroke-width="1.5"/><rect x="643.5" y="350" width="4" height="10" fill="#8c9196" opacity="0.8"/><rect x="660.5" y="350" width="9" height="10" fill="#5a5f65" opacity="0.6"/><rect x="638.5" y="391" width="34.5" height="14" rx="1.5" fill="#6a6f75" stroke="#253545" stroke-width="1.5"/><rect x="643.5" y="393" width="4" height="10" fill="#8c9196" opacity="0.8"/><rect x="660.5" y="393" width="9" height="10" fill="#5a5f65" opacity="0.6"/><rect x="513" y="391.5" width="115.5" height="21" fill="url(#dieG)" stroke="#253545" stroke-width="1.4"/><rect x="514" y="392.5" width="113.5" height="3.5" fill="#7d858b" opacity="0.6"/><rect x="513" y="413" width="116" height="53" rx="8" fill="url(#pelletG)" filter="url(#speckle)"/><rect x="513" y="413" width="116" height="53" rx="8" fill="none" stroke="#1f3f62" stroke-width="1.6"/><rect x="462" y="362" width="219" height="30" rx="3" fill="url(#plateG)" stroke="#223243" stroke-width="2"/><path d="M464.5 390 V364.5 H678.5" fill="none" stroke="#a4a9ae" stroke-width="1.3" opacity="0.8"/><rect x="462" y="466" width="219" height="26.5" rx="3" fill="url(#plateG)" stroke="#223243" stroke-width="2"/><path d="M464.5 490.5 V468.5 H678.5" fill="none" stroke="#a4a9ae" stroke-width="1.3" opacity="0.8"/><rect x="664" y="468" width="15" height="22" fill="#5d6268" opacity="0.5"/><text x="499.71" y="383.60" font-size="17.39" font-weight="bold" fill="#ffffff" stroke="#ffffff" stroke-width="0.45" textLength="143.30" lengthAdjust="spacingAndGlyphs">640 MPa PRESSURE</text>
<text x="39.10" y="526.40" font-size="17.83" font-weight="normal" fill="#111" stroke="#111" stroke-width="0.35" textLength="315.05" lengthAdjust="spacingAndGlyphs">Air gaps act as insulators, blocking Li+ ion</text>
<text x="52.73" y="545.40" font-size="17.83" font-weight="normal" fill="#111" stroke="#111" stroke-width="0.35" textLength="286.76" lengthAdjust="spacingAndGlyphs">transport and causing high resistance.</text>
<text x="423.25" y="526.70" font-size="17.83" font-weight="normal" fill="#111" stroke="#111" stroke-width="0.35" textLength="295.50" lengthAdjust="spacingAndGlyphs">Extreme pressure physically transforms</text>
<text x="440.48" y="546.70" font-size="17.83" font-weight="normal" fill="#111" stroke="#111" stroke-width="0.35" textLength="261.43" lengthAdjust="spacingAndGlyphs">powder into a dense, unified pellet.</text>
<text x="24.02" y="599.80" font-size="22.61" font-weight="bold" fill="#111" stroke="#111" stroke-width="0.45" textLength="265.16" lengthAdjust="spacingAndGlyphs">3. Mechanics of Densification</text>
<text x="45.67" y="636.50" font-size="20.58" font-weight="bold" fill="#111" stroke="#111" stroke-width="0.45" textLength="300.32" lengthAdjust="spacingAndGlyphs">A. Eliminating Microstructural Voids</text>
<text x="455.78" y="636.40" font-size="20.58" font-weight="bold" fill="#111" stroke="#111" stroke-width="0.45" textLength="228.47" lengthAdjust="spacingAndGlyphs">B. Maximizing Contact Area</text>
<line x1="384" y1="619" x2="384" y2="874" stroke="#7d8892" stroke-width="1.8" stroke-dasharray="3.4 3.4"/>
<clipPath id="bfClip"><rect x="44" y="658" width="124" height="123" rx="4"/></clipPath><rect x="43.5" y="657.5" width="125" height="124" rx="4.5" fill="#eaf4fb"/><g clip-path="url(#bfClip)"><path d="M49.6 678.2Q49.2 683.1 45.2 682.9L40.7 682.8Q36.7 682.7 35.7 678.1L34.5 673.0Q33.4 668.4 36.5 665.8L39.9 662.9Q42.9 660.4 45.3 662.8L48.0 665.5Q50.5 667.9 50.0 672.8Z" fill="#7dbee6" stroke="#143250" stroke-width="1.8"/><path d="M56.2 670.0Q55.1 666.6 61.5 663.6L68.6 660.2Q74.9 657.2 78.0 660.2L81.6 663.5Q84.8 666.4 85.1 670.3L85.3 674.7Q85.6 678.5 80.8 681.5L75.4 684.9Q70.6 687.9 66.8 684.5L62.4 680.7Q58.6 677.2 57.5 673.8Z" fill="#7dbee6" stroke="#143250" stroke-width="1.8"/><path d="M105.5 659.9Q104.1 662.4 100.6 662.4L96.7 662.5Q93.3 662.5 92.3 660.2L91.3 657.5Q90.3 655.2 93.3 653.8L96.7 652.2Q99.7 650.8 102.5 652.1L105.7 653.5Q108.5 654.8 107.1 657.2Z" fill="#7dbee6" stroke="#143250" stroke-width="1.8"/><path d="M115.6 676.4Q120.0 679.9 117.1 684.7L113.8 690.1Q110.9 694.9 107.6 696.1L103.9 697.3Q100.6 698.4 96.9 694.9L92.7 690.9Q89.1 687.3 91.2 680.8L93.6 673.4Q95.8 666.9 99.1 667.6L102.9 668.3Q106.3 668.9 110.7 672.4Z" fill="#7dbee6" stroke="#143250" stroke-width="1.8"/><path d="M143.4 660.3Q147.3 663.2 145.7 665.6L143.8 668.2Q142.2 670.5 136.2 672.0L129.5 673.7Q123.5 675.3 121.4 673.2L119.1 670.9Q117.0 668.8 118.6 664.6L120.5 659.9Q122.1 655.6 126.3 655.1L131.1 654.5Q135.3 654.0 139.1 657.0Z" fill="#7dbee6" stroke="#143250" stroke-width="1.8"/><path d="M162.8 660.6Q166.8 660.8 166.8 668.0L166.7 676.1Q166.7 683.3 162.8 684.7L158.4 686.3Q154.4 687.8 152.0 684.7L149.3 681.2Q146.9 678.0 149.3 672.3L152.0 665.8Q154.5 660.1 158.4 660.3Z" fill="#7dbee6" stroke="#143250" stroke-width="1.8"/><path d="M40.4 691.7Q42.7 689.5 45.4 691.4L48.6 693.6Q51.3 695.6 51.2 698.9L51.0 702.7Q50.8 706.0 47.1 707.2L42.9 708.4Q39.2 709.6 38.1 705.4L36.7 700.7Q35.5 696.5 37.8 694.3Z" fill="#7dbee6" stroke="#143250" stroke-width="1.8"/><path d="M75.7 721.3Q70.9 723.5 66.3 720.5L61.3 717.1Q56.8 714.1 57.1 710.6L57.5 706.7Q57.8 703.1 63.3 700.1L69.6 696.7Q75.1 693.7 78.0 695.5L81.3 697.5Q84.3 699.3 84.8 704.8L85.5 711.1Q86.1 716.7 81.2 718.9Z" fill="#7dbee6" stroke="#143250" stroke-width="1.8"/><path d="M153.2 710.5Q150.4 718.7 144.8 718.7L138.5 718.6Q132.9 718.6 128.9 715.0L124.4 710.9Q120.4 707.3 121.1 701.7L121.9 695.5Q122.6 689.9 130.2 688.4L138.6 686.8Q146.2 685.3 150.3 687.8L155.0 690.5Q159.1 692.9 156.3 701.2Z" fill="#7dbee6" stroke="#143250" stroke-width="1.8"/><path d="M171.2 711.1Q168.6 713.2 166.6 710.7L164.3 708.0Q162.3 705.6 164.2 700.9L166.3 695.6Q168.2 690.9 170.9 691.8L173.8 692.9Q176.4 693.8 176.5 698.0L176.7 702.6Q176.8 706.8 174.2 708.8Z" fill="#7dbee6" stroke="#143250" stroke-width="1.8"/><path d="M118.8 704.6Q122.8 708.0 122.2 713.7L121.5 720.1Q120.9 725.8 115.8 728.9L110.1 732.4Q105.0 735.5 100.4 732.9L95.2 730.0Q90.5 727.5 90.8 721.5L91.1 714.8Q91.4 708.8 97.5 705.1L104.3 701.0Q110.4 697.3 114.4 700.8Z" fill="#7dbee6" stroke="#143250" stroke-width="1.8"/><path d="M43.9 715.3Q48.6 713.4 50.8 719.0L53.4 725.2Q55.7 730.8 52.2 734.2L48.4 738.0Q44.9 741.4 41.5 739.8L37.7 738.0Q34.2 736.5 34.1 731.0L34.0 724.8Q33.9 719.3 38.6 717.4Z" fill="#7dbee6" stroke="#143250" stroke-width="1.8"/><path d="M63.3 743.2Q60.5 739.3 62.9 734.7L65.6 729.4Q68.0 724.8 73.3 725.6L79.4 726.5Q84.8 727.3 87.3 729.8L90.2 732.6Q92.8 735.1 91.6 740.4L90.3 746.3Q89.1 751.6 82.7 751.5L75.6 751.5Q69.3 751.5 66.5 747.6Z" fill="#7dbee6" stroke="#143250" stroke-width="1.8"/><path d="M168.1 729.1Q170.0 735.7 168.0 738.3L165.8 741.2Q163.8 743.7 158.5 744.1L152.6 744.5Q147.3 744.9 146.1 738.0L144.7 730.1Q143.5 723.1 146.2 719.7L149.3 715.9Q152.0 712.4 155.9 713.3L160.1 714.2Q163.9 715.1 165.9 721.7Z" fill="#7dbee6" stroke="#143250" stroke-width="1.8"/><path d="M135.8 764.7Q132.9 767.6 126.4 765.3L119.0 762.8Q112.5 760.5 110.7 753.8L108.6 746.3Q106.7 739.7 113.6 735.6L121.4 731.0Q128.3 726.9 132.8 727.9L137.9 729.1Q142.4 730.2 142.3 739.3L142.3 749.6Q142.2 758.8 139.2 761.6Z" fill="#7dbee6" stroke="#143250" stroke-width="1.8"/><path d="M56.0 748.1Q58.3 748.7 59.7 751.1L61.3 753.8Q62.7 756.1 59.1 758.7L55.0 761.6Q51.4 764.1 48.8 762.5L45.8 760.7Q43.1 759.1 43.1 756.3L43.1 753.1Q43.1 750.3 45.6 749.1L48.5 747.8Q51.0 746.6 53.3 747.3Z" fill="#7dbee6" stroke="#143250" stroke-width="1.8"/><path d="M97.7 746.5Q102.1 745.4 103.9 748.6L105.9 752.2Q107.7 755.4 104.4 759.7L100.7 764.6Q97.3 768.9 94.4 766.8L91.0 764.4Q88.0 762.2 88.2 757.9L88.3 753.0Q88.5 748.6 92.8 747.6Z" fill="#7dbee6" stroke="#143250" stroke-width="1.8"/><path d="M165.4 774.3Q163.5 775.9 160.2 774.5L156.4 772.9Q153.1 771.5 152.2 766.8L151.1 761.5Q150.2 756.8 153.5 753.3L157.3 749.4Q160.7 745.9 163.6 748.9L166.9 752.3Q169.8 755.3 169.7 760.3L169.5 765.9Q169.4 770.9 167.5 772.5Z" fill="#7dbee6" stroke="#143250" stroke-width="1.8"/><path d="M39.3 765.7Q41.5 763.1 45.4 763.8L49.9 764.6Q53.8 765.3 54.0 770.2L54.1 775.7Q54.3 780.6 49.9 781.7L45.0 783.0Q40.7 784.1 38.8 780.0L36.6 775.5Q34.7 771.5 36.9 768.8Z" fill="#7dbee6" stroke="#143250" stroke-width="1.8"/><path d="M83.4 764.6Q88.2 766.3 88.5 771.3L88.8 776.9Q89.1 781.8 84.0 783.1L78.2 784.6Q73.1 785.9 69.6 784.5L65.8 782.9Q62.3 781.4 62.3 775.8L62.2 769.5Q62.1 763.9 65.7 762.9L69.7 761.8Q73.3 760.8 78.1 762.6Z" fill="#7dbee6" stroke="#143250" stroke-width="1.8"/><path d="M95.2 782.2Q93.3 779.7 97.1 776.4L101.5 772.6Q105.3 769.3 110.4 770.5L116.2 771.8Q121.4 773.0 122.6 775.6L123.9 778.6Q125.1 781.2 123.1 783.1L120.9 785.3Q118.9 787.2 112.5 787.3L105.4 787.4Q99.1 787.4 97.3 785.0Z" fill="#7dbee6" stroke="#143250" stroke-width="1.8"/><path d="M150.8 780.8Q149.8 783.5 145.8 785.0L141.2 786.7Q137.1 788.2 134.2 786.6L130.9 784.9Q127.9 783.3 127.9 780.1L127.9 776.5Q127.9 773.2 131.7 771.4L136.0 769.2Q139.8 767.3 144.0 769.8L148.6 772.6Q152.8 775.1 151.8 777.8Z" fill="#7dbee6" stroke="#143250" stroke-width="1.8"/><path d="M158.3 783.5Q156.5 781.1 159.4 778.7L162.7 775.9Q165.6 773.4 168.6 775.0L172.1 776.9Q175.1 778.6 174.4 781.8L173.7 785.4Q173.1 788.6 169.6 788.6L165.7 788.6Q162.3 788.6 160.4 786.2Z" fill="#7dbee6" stroke="#143250" stroke-width="1.8"/></g><rect x="43.5" y="657.5" width="125" height="124" rx="4.5" fill="none" stroke="#1b3a5c" stroke-width="2"/>
<clipPath id="afClip"><rect x="225" y="658" width="123" height="123" rx="4"/></clipPath><rect x="224.5" y="657.5" width="124.5" height="124" rx="4.5" fill="#5ba7d6"/><g clip-path="url(#afClip)"><circle cx="230.3" cy="664" r="8.5" fill="#67b2dd" stroke="#17426a" stroke-width="1.6"/><circle cx="255.2" cy="669.2" r="17.3" fill="#67b2dd" stroke="#17426a" stroke-width="1.6"/><circle cx="285.3" cy="675.2" r="14.6" fill="#67b2dd" stroke="#17426a" stroke-width="1.6"/><circle cx="311" cy="668.3" r="13.7" fill="#67b2dd" stroke="#17426a" stroke-width="1.6"/><circle cx="335.2" cy="680.4" r="14.6" fill="#67b2dd" stroke="#17426a" stroke-width="1.6"/><circle cx="235.5" cy="688" r="13.7" fill="#67b2dd" stroke="#17426a" stroke-width="1.6"/><circle cx="263" cy="697.5" r="16.4" fill="#67b2dd" stroke="#17426a" stroke-width="1.6"/><circle cx="308.5" cy="695.8" r="16.4" fill="#67b2dd" stroke="#17426a" stroke-width="1.6"/><circle cx="338.6" cy="709.6" r="12.7" fill="#67b2dd" stroke="#17426a" stroke-width="1.6"/><circle cx="240.6" cy="719" r="15.9" fill="#67b2dd" stroke="#17426a" stroke-width="1.6"/><circle cx="287.9" cy="723.3" r="21.0" fill="#67b2dd" stroke="#17426a" stroke-width="1.6"/><circle cx="323.1" cy="733.6" r="15.9" fill="#67b2dd" stroke="#17426a" stroke-width="1.6"/><circle cx="233.7" cy="746.5" r="12.7" fill="#67b2dd" stroke="#17426a" stroke-width="1.6"/><circle cx="258.7" cy="744.8" r="15.9" fill="#67b2dd" stroke="#17426a" stroke-width="1.6"/><circle cx="343.8" cy="738" r="7.4" fill="#67b2dd" stroke="#17426a" stroke-width="1.6"/><circle cx="301.6" cy="756.8" r="16.4" fill="#67b2dd" stroke="#17426a" stroke-width="1.6"/><circle cx="333.4" cy="762" r="15.9" fill="#67b2dd" stroke="#17426a" stroke-width="1.6"/><circle cx="247.5" cy="768.9" r="11.3" fill="#67b2dd" stroke="#17426a" stroke-width="1.6"/><circle cx="275" cy="768.9" r="15.5" fill="#67b2dd" stroke="#17426a" stroke-width="1.6"/><circle cx="228.6" cy="772.3" r="9.1" fill="#67b2dd" stroke="#17426a" stroke-width="1.6"/><circle cx="311" cy="778.3" r="11.7" fill="#67b2dd" stroke="#17426a" stroke-width="1.6"/><circle cx="345" cy="662" r="6.4" fill="#67b2dd" stroke="#17426a" stroke-width="1.6"/><circle cx="290" cy="657" r="6.4" fill="#67b2dd" stroke="#17426a" stroke-width="1.6"/></g><rect x="224.5" y="657.5" width="124.5" height="124" rx="4.5" fill="none" stroke="#1b3a5c" stroke-width="2"/>
<rect x="180" y="715" width="22" height="10" fill="url(#midArrowG)"/><path d="M199 709.5 L212.6 720 L199 730.5 Z" fill="#3b6ea6"/>
<text x="76.32" y="804.80" font-size="17.39" font-weight="bold" fill="#111" stroke="#111" stroke-width="0.45" textLength="58.19" lengthAdjust="spacingAndGlyphs">BEFORE</text>
<text x="78.22" y="823.50" font-size="17.83" font-weight="normal" fill="#111" stroke="#111" stroke-width="0.35" textLength="55.26" lengthAdjust="spacingAndGlyphs">(Loose)</text>
<text x="262.56" y="804.80" font-size="17.39" font-weight="bold" fill="#111" stroke="#111" stroke-width="0.45" textLength="49.28" lengthAdjust="spacingAndGlyphs">AFTER</text>
<text x="248.01" y="823.50" font-size="17.83" font-weight="normal" fill="#111" stroke="#111" stroke-width="0.35" textLength="77.36" lengthAdjust="spacingAndGlyphs">(640 MPa)</text>
<text x="38.65" y="852.00" font-size="17.83" font-weight="normal" fill="#111" stroke="#111" stroke-width="0.35" textLength="314.28" lengthAdjust="spacingAndGlyphs">Crushes insulating voids, forcing particles</text>
<text x="107.23" y="871.80" font-size="17.83" font-weight="normal" fill="#111" stroke="#111" stroke-width="0.35" textLength="174.67" lengthAdjust="spacingAndGlyphs">to occupy empty space.</text>
<ellipse cx="476" cy="721" rx="16" ry="25" fill="url(#glowO)"/><clipPath id="ctp0"><path d="M411.9 692.9Q414.0 689.0 423.9 687.0L437.1 684.5Q447.0 682.5 453.9 689.5L463.1 699.0Q470.0 706.0 471.8 710.8L474.2 717.2Q476.0 722.0 473.6 726.5L470.4 732.5Q468.0 737.0 461.7 743.6L453.3 752.4Q447.0 759.0 440.4 756.9L431.6 754.1Q425.0 752.0 418.7 745.4L410.3 736.6Q404.0 730.0 404.9 721.6L406.1 710.4Q407.0 702.0 409.1 698.1Z"/></clipPath><path d="M411.9 692.9Q414.0 689.0 423.9 687.0L437.1 684.5Q447.0 682.5 453.9 689.5L463.1 699.0Q470.0 706.0 471.8 710.8L474.2 717.2Q476.0 722.0 473.6 726.5L470.4 732.5Q468.0 737.0 461.7 743.6L453.3 752.4Q447.0 759.0 440.4 756.9L431.6 754.1Q425.0 752.0 418.7 745.4L410.3 736.6Q404.0 730.0 404.9 721.6L406.1 710.4Q407.0 702.0 409.1 698.1Z" fill="#7cb9e2"/><g clip-path="url(#ctp0)"><ellipse cx="435.5" cy="714.4" rx="35.3" ry="33.3" fill="#acd8f2"/><path d="M420.0 710.7 Q421.8 697.7 434.4 694.0" stroke="#e6f4fc" stroke-width="3.2" fill="none" stroke-linecap="round" opacity="0.85"/></g><path d="M411.9 692.9Q414.0 689.0 423.9 687.0L437.1 684.5Q447.0 682.5 453.9 689.5L463.1 699.0Q470.0 706.0 471.8 710.8L474.2 717.2Q476.0 722.0 473.6 726.5L470.4 732.5Q468.0 737.0 461.7 743.6L453.3 752.4Q447.0 759.0 440.4 756.9L431.6 754.1Q425.0 752.0 418.7 745.4L410.3 736.6Q404.0 730.0 404.9 721.6L406.1 710.4Q407.0 702.0 409.1 698.1Z" fill="none" stroke="#1a3450" stroke-width="2"/><clipPath id="ctp1"><path d="M477.9 725.3Q476.5 722.0 480.6 714.5L485.9 704.5Q490.0 697.0 496.6 693.0L505.4 687.5Q512.0 683.5 519.8 687.2L530.2 692.2Q538.0 696.0 540.7 702.0L544.3 710.0Q547.0 716.0 545.2 723.5L542.8 733.5Q541.0 741.0 532.3 746.5L520.7 754.0Q512.0 759.5 506.6 756.6L499.4 752.9Q494.0 750.0 490.1 744.9L484.9 738.1Q481.0 733.0 479.6 729.7Z"/></clipPath><path d="M477.9 725.3Q476.5 722.0 480.6 714.5L485.9 704.5Q490.0 697.0 496.6 693.0L505.4 687.5Q512.0 683.5 519.8 687.2L530.2 692.2Q538.0 696.0 540.7 702.0L544.3 710.0Q547.0 716.0 545.2 723.5L542.8 733.5Q541.0 741.0 532.3 746.5L520.7 754.0Q512.0 759.5 506.6 756.6L499.4 752.9Q494.0 750.0 490.1 744.9L484.9 738.1Q481.0 733.0 479.6 729.7Z" fill="#7cb9e2"/><g clip-path="url(#ctp1)"><ellipse cx="505.8" cy="716.5" rx="35.3" ry="33.3" fill="#acd8f2"/><path d="M490.4 712.8 Q492.2 699.8 504.8 696.1" stroke="#e6f4fc" stroke-width="3.2" fill="none" stroke-linecap="round" opacity="0.85"/></g><path d="M477.9 725.3Q476.5 722.0 480.6 714.5L485.9 704.5Q490.0 697.0 496.6 693.0L505.4 687.5Q512.0 683.5 519.8 687.2L530.2 692.2Q538.0 696.0 540.7 702.0L544.3 710.0Q547.0 716.0 545.2 723.5L542.8 733.5Q541.0 741.0 532.3 746.5L520.7 754.0Q512.0 759.5 506.6 756.6L499.4 752.9Q494.0 750.0 490.1 744.9L484.9 738.1Q481.0 733.0 479.6 729.7Z" fill="none" stroke="#1a3450" stroke-width="2"/><ellipse cx="476" cy="720" rx="6" ry="14" fill="url(#glowO)" opacity="0.7"/><clipPath id="pnClip"><path d="M590.8 721 C590.8 700 606 685 626 685 C641 685 648 696.7 661.2 696.7 C674 696.7 681 685 696 685 C716 685 731 700 731 721 C731 742 716 756.7 696 756.7 C681 756.7 674 746.7 661.2 746.7 C648 746.7 641 756.7 626 756.7 C606 756.7 590.8 742 590.8 721 Z"/></clipPath><path d="M590.8 721 C590.8 700 606 685 626 685 C641 685 648 696.7 661.2 696.7 C674 696.7 681 685 696 685 C716 685 731 700 731 721 C731 742 716 756.7 696 756.7 C681 756.7 674 746.7 661.2 746.7 C648 746.7 641 756.7 626 756.7 C606 756.7 590.8 742 590.8 721 Z" fill="#7ab8e2"/><g clip-path="url(#pnClip)"><ellipse cx="622" cy="716" rx="33" ry="30" fill="#acd8f2"/><ellipse cx="693" cy="716" rx="35" ry="30" fill="#acd8f2"/><rect x="639" y="680" width="45" height="80" fill="url(#bandO)"/><path d="M654 702 Q659 721 654 742 M668 702 Q663 721 668 742" stroke="#ffc878" stroke-width="1.4" fill="none" opacity="0.75" stroke-dasharray="4 2"/><path d="M600 712 Q603 697 618 692" stroke="#e8f5fd" stroke-width="2.5" fill="none" stroke-linecap="round"/></g><path d="M590.8 721 C590.8 700 606 685 626 685 C641 685 648 696.7 661.2 696.7 C674 696.7 681 685 696 685 C716 685 731 700 731 721 C731 742 716 756.7 696 756.7 C681 756.7 674 746.7 661.2 746.7 C648 746.7 641 756.7 626 756.7 C606 756.7 590.8 742 590.8 721 Z" fill="none" stroke="#1a3450" stroke-width="2"/><line x1="475.5" y1="776" x2="475.5" y2="747" stroke="#111" stroke-width="1.6"/><path d="M471.0 749 L475.5 741 L480.0 749 Z" fill="#111"/><line x1="661" y1="776" x2="661" y2="759" stroke="#111" stroke-width="1.6"/><path d="M656.5 761 L661 753 L665.5 761 Z" fill="#111"/><text x="555.00" y="729.80" font-size="24.64" font-weight="bold" fill="#111" stroke="#111" stroke-width="0.45" textLength="28.43" lengthAdjust="spacingAndGlyphs">vs.</text>
<text x="424.41" y="794.60" font-size="17.83" font-weight="normal" fill="#111" stroke="#111" stroke-width="0.35" textLength="101.05" lengthAdjust="spacingAndGlyphs">Point Contact,</text>
<text x="417.33" y="813.20" font-size="17.83" font-weight="normal" fill="#111" stroke="#111" stroke-width="0.35" textLength="115.48" lengthAdjust="spacingAndGlyphs">High Resistance</text>
<text x="589.02" y="794.60" font-size="17.83" font-weight="normal" fill="#111" stroke="#111" stroke-width="0.35" textLength="144.34" lengthAdjust="spacingAndGlyphs">Broad Contact Area,</text>
<text x="603.71" y="813.20" font-size="17.83" font-weight="normal" fill="#111" stroke="#111" stroke-width="0.35" textLength="113.57" lengthAdjust="spacingAndGlyphs">Low Resistance</text>
<text x="413.96" y="851.70" font-size="17.83" font-weight="normal" fill="#111" stroke="#111" stroke-width="0.35" textLength="313.90" lengthAdjust="spacingAndGlyphs">Induces plastic deformation, widening ion</text>
<text x="449.43" y="870.70" font-size="17.83" font-weight="normal" fill="#111" stroke="#111" stroke-width="0.35" textLength="244.35" lengthAdjust="spacingAndGlyphs">flow "highways" between grains.</text>
<text x="25.31" y="925.30" font-size="22.61" font-weight="bold" fill="#111" stroke="#111" stroke-width="0.45" textLength="316.60" lengthAdjust="spacingAndGlyphs">4. The Result: Intrinsic Conductivity</text>
<text x="399.35" y="925.30" font-size="22.61" font-weight="bold" fill="#111" stroke="#111" stroke-width="0.45" textLength="156.67" lengthAdjust="spacingAndGlyphs">Summary &amp; Risks</text>
<rect x="383" y="908.6" width="2.2" height="348" fill="#566b7d"/>
<line x1="56.7" y1="950" x2="56.7" y2="1034" stroke="#111" stroke-width="1.8"/><path d="M52.2 951 L56.7 942.5 L61.2 951 Z" fill="#111"/><line x1="56" y1="1034" x2="203" y2="1034" stroke="#111" stroke-width="1.8"/><path d="M201 1029 L211 1034 L201 1039 Z" fill="#111"/><path d="M77.8 1034 A57 61.5 0 0 1 191.8 1034" fill="none" stroke="#1f5a9a" stroke-width="2.5"/><circle cx="134.8" cy="972.8" r="3.6" fill="#1f5a9a"/><circle cx="89" cy="998" r="3.6" fill="#1f5a9a"/><circle cx="181.6" cy="998" r="3.6" fill="#1f5a9a"/><path d="M62 1034 A14.9 15 0 0 1 91.8 1034" fill="none" stroke="#f0a040" stroke-width="3.5"/><line x1="221" y1="1019.6" x2="97" y2="1019.6" stroke="#f0a040" stroke-width="2"/><path d="M103 1013.5 L91.5 1019.6 L103 1025.7 Z" fill="#f0a040"/><text transform="translate(47.5,988) rotate(-90)" font-size="17" text-anchor="middle" fill="#111">-Z”</text><text x="127.85" y="1052.70" font-size="17.39" font-weight="normal" fill="#111" stroke="#111" stroke-width="0.35" textLength="15.31" lengthAdjust="spacingAndGlyphs">Z’</text><path d="M79.5 1041.8 Q86 1058 95 1068" fill="none" stroke="#234f80" stroke-width="2.2"/><path d="M88 1067 L98 1071 L96 1060 Z" fill="#234f80"/>
<text x="226.52" y="955.50" font-size="17.25" font-weight="normal" fill="#111" stroke="#111" stroke-width="0.35" textLength="112.60" lengthAdjust="spacingAndGlyphs">Electrochemical</text>
<text x="226.37" y="973.30" font-size="17.25" font-weight="normal" fill="#111" stroke="#111" stroke-width="0.35" textLength="78.79" lengthAdjust="spacingAndGlyphs">Impedance</text>
<text x="227.03" y="991.20" font-size="17.25" font-weight="normal" fill="#111" stroke="#111" stroke-width="0.35" textLength="132.96" lengthAdjust="spacingAndGlyphs">Spectroscopy (EIS)</text>
<text x="226.74" y="1024.80" font-size="17.39" font-weight="bold" fill="#111" stroke="#111" stroke-width="0.45" textLength="116.79" lengthAdjust="spacingAndGlyphs">Bulk Resistance</text>
<text x="226.81" y="1042.60" font-size="17.25" font-weight="normal" fill="#111" stroke="#111" stroke-width="0.35" textLength="134.34" lengthAdjust="spacingAndGlyphs">(Intrinsic Property)</text>
<clipPath id="sideClip"><path d="M71.0 1100 V1171 A121.5 29 0 0 0 314.0 1171 V1100 Z"/></clipPath><clipPath id="topClip"><ellipse cx="192.5" cy="1100" rx="121.5" ry="33"/></clipPath><path d="M71.0 1100 V1171 A121.5 29 0 0 0 314.0 1171 V1100 Z" fill="url(#sideG)"/><g clip-path="url(#sideClip)"><path d="M68.4 1161.6 C71.2 1161.0 80.2 1158.2 85.3 1158.2 C90.4 1158.2 96.6 1161.0 98.9 1161.6 M98.9 1161.6 C100.5 1159.9 106.2 1155.4 109.0 1151.4 C111.8 1147.5 113.4 1141.8 115.8 1137.9 C118.1 1133.9 122.0 1129.4 123.2 1127.7 M98.9 1161.6 C100.0 1163.8 101.1 1171.7 105.6 1175.1 C110.1 1178.5 119.2 1181.6 125.9 1181.9 C132.7 1182.2 139.5 1178.5 146.2 1176.8 C153.0 1175.1 159.8 1174.3 166.6 1171.7 C173.3 1169.2 182.4 1166.1 186.9 1161.6 C191.4 1157.0 192.8 1150.3 193.6 1144.6 C194.5 1139.0 192.2 1130.5 191.9 1127.7 M193.6 1144.6 C195.9 1145.2 202.7 1145.2 207.2 1148.0 C211.7 1150.8 217.9 1155.9 220.7 1161.6 C223.5 1167.2 225.8 1174.5 224.1 1181.9 C222.4 1189.2 212.8 1201.6 210.6 1205.6 M166.6 1171.7 C167.7 1174.0 171.6 1179.0 173.3 1185.3 C175.0 1191.5 176.1 1205.0 176.7 1209.0 M224.1 1171.7 C228.1 1171.7 241.6 1174.5 247.8 1171.7 C254.0 1168.9 258.0 1161.0 261.3 1154.8 C264.7 1148.6 264.7 1139.3 268.1 1134.5 C271.5 1129.7 279.4 1127.4 281.7 1126.0 M261.3 1154.8 C263.6 1153.7 269.2 1150.0 274.9 1148.0 C280.5 1146.0 287.3 1145.5 295.2 1142.9 C303.1 1140.4 317.8 1134.5 322.3 1132.8 M247.8 1171.7 C248.9 1174.5 252.3 1182.4 254.6 1188.6 C256.8 1194.8 260.2 1205.6 261.3 1209.0 M295.2 1142.9 C296.3 1146.0 297.5 1156.2 302.0 1161.6 C306.5 1166.9 318.9 1172.8 322.3 1175.1 M105.6 1175.1 C103.4 1177.4 95.5 1183.0 92.1 1188.6 C88.7 1194.3 86.4 1205.6 85.3 1209.0 M125.9 1181.9 C127.1 1184.1 132.1 1190.9 132.7 1195.4 C133.3 1199.9 129.9 1206.7 129.3 1209.0" fill="none" stroke="#1a4a7a" stroke-width="8" opacity="0.45" stroke-linecap="round"/><path d="M68.4 1161.6 C71.2 1161.0 80.2 1158.2 85.3 1158.2 C90.4 1158.2 96.6 1161.0 98.9 1161.6 M98.9 1161.6 C100.5 1159.9 106.2 1155.4 109.0 1151.4 C111.8 1147.5 113.4 1141.8 115.8 1137.9 C118.1 1133.9 122.0 1129.4 123.2 1127.7 M98.9 1161.6 C100.0 1163.8 101.1 1171.7 105.6 1175.1 C110.1 1178.5 119.2 1181.6 125.9 1181.9 C132.7 1182.2 139.5 1178.5 146.2 1176.8 C153.0 1175.1 159.8 1174.3 166.6 1171.7 C173.3 1169.2 182.4 1166.1 186.9 1161.6 C191.4 1157.0 192.8 1150.3 193.6 1144.6 C194.5 1139.0 192.2 1130.5 191.9 1127.7 M193.6 1144.6 C195.9 1145.2 202.7 1145.2 207.2 1148.0 C211.7 1150.8 217.9 1155.9 220.7 1161.6 C223.5 1167.2 225.8 1174.5 224.1 1181.9 C222.4 1189.2 212.8 1201.6 210.6 1205.6 M166.6 1171.7 C167.7 1174.0 171.6 1179.0 173.3 1185.3 C175.0 1191.5 176.1 1205.0 176.7 1209.0 M224.1 1171.7 C228.1 1171.7 241.6 1174.5 247.8 1171.7 C254.0 1168.9 258.0 1161.0 261.3 1154.8 C264.7 1148.6 264.7 1139.3 268.1 1134.5 C271.5 1129.7 279.4 1127.4 281.7 1126.0 M261.3 1154.8 C263.6 1153.7 269.2 1150.0 274.9 1148.0 C280.5 1146.0 287.3 1145.5 295.2 1142.9 C303.1 1140.4 317.8 1134.5 322.3 1132.8 M247.8 1171.7 C248.9 1174.5 252.3 1182.4 254.6 1188.6 C256.8 1194.8 260.2 1205.6 261.3 1209.0 M295.2 1142.9 C296.3 1146.0 297.5 1156.2 302.0 1161.6 C306.5 1166.9 318.9 1172.8 322.3 1175.1 M105.6 1175.1 C103.4 1177.4 95.5 1183.0 92.1 1188.6 C88.7 1194.3 86.4 1205.6 85.3 1209.0 M125.9 1181.9 C127.1 1184.1 132.1 1190.9 132.7 1195.4 C133.3 1199.9 129.9 1206.7 129.3 1209.0" fill="none" stroke="#4fb6ee" stroke-width="12" opacity="0.3" filter="url(#blur2)"/><path d="M68.4 1161.6 C71.2 1161.0 80.2 1158.2 85.3 1158.2 C90.4 1158.2 96.6 1161.0 98.9 1161.6 M98.9 1161.6 C100.5 1159.9 106.2 1155.4 109.0 1151.4 C111.8 1147.5 113.4 1141.8 115.8 1137.9 C118.1 1133.9 122.0 1129.4 123.2 1127.7 M98.9 1161.6 C100.0 1163.8 101.1 1171.7 105.6 1175.1 C110.1 1178.5 119.2 1181.6 125.9 1181.9 C132.7 1182.2 139.5 1178.5 146.2 1176.8 C153.0 1175.1 159.8 1174.3 166.6 1171.7 C173.3 1169.2 182.4 1166.1 186.9 1161.6 C191.4 1157.0 192.8 1150.3 193.6 1144.6 C194.5 1139.0 192.2 1130.5 191.9 1127.7 M193.6 1144.6 C195.9 1145.2 202.7 1145.2 207.2 1148.0 C211.7 1150.8 217.9 1155.9 220.7 1161.6 C223.5 1167.2 225.8 1174.5 224.1 1181.9 C222.4 1189.2 212.8 1201.6 210.6 1205.6 M166.6 1171.7 C167.7 1174.0 171.6 1179.0 173.3 1185.3 C175.0 1191.5 176.1 1205.0 176.7 1209.0 M224.1 1171.7 C228.1 1171.7 241.6 1174.5 247.8 1171.7 C254.0 1168.9 258.0 1161.0 261.3 1154.8 C264.7 1148.6 264.7 1139.3 268.1 1134.5 C271.5 1129.7 279.4 1127.4 281.7 1126.0 M261.3 1154.8 C263.6 1153.7 269.2 1150.0 274.9 1148.0 C280.5 1146.0 287.3 1145.5 295.2 1142.9 C303.1 1140.4 317.8 1134.5 322.3 1132.8 M247.8 1171.7 C248.9 1174.5 252.3 1182.4 254.6 1188.6 C256.8 1194.8 260.2 1205.6 261.3 1209.0 M295.2 1142.9 C296.3 1146.0 297.5 1156.2 302.0 1161.6 C306.5 1166.9 318.9 1172.8 322.3 1175.1 M105.6 1175.1 C103.4 1177.4 95.5 1183.0 92.1 1188.6 C88.7 1194.3 86.4 1205.6 85.3 1209.0 M125.9 1181.9 C127.1 1184.1 132.1 1190.9 132.7 1195.4 C133.3 1199.9 129.9 1206.7 129.3 1209.0" fill="none" stroke="#5ec2f4" stroke-width="5" stroke-linecap="round"/><path d="M68.4 1161.6 C71.2 1161.0 80.2 1158.2 85.3 1158.2 C90.4 1158.2 96.6 1161.0 98.9 1161.6 M98.9 1161.6 C100.5 1159.9 106.2 1155.4 109.0 1151.4 C111.8 1147.5 113.4 1141.8 115.8 1137.9 C118.1 1133.9 122.0 1129.4 123.2 1127.7 M98.9 1161.6 C100.0 1163.8 101.1 1171.7 105.6 1175.1 C110.1 1178.5 119.2 1181.6 125.9 1181.9 C132.7 1182.2 139.5 1178.5 146.2 1176.8 C153.0 1175.1 159.8 1174.3 166.6 1171.7 C173.3 1169.2 182.4 1166.1 186.9 1161.6 C191.4 1157.0 192.8 1150.3 193.6 1144.6 C194.5 1139.0 192.2 1130.5 191.9 1127.7 M193.6 1144.6 C195.9 1145.2 202.7 1145.2 207.2 1148.0 C211.7 1150.8 217.9 1155.9 220.7 1161.6 C223.5 1167.2 225.8 1174.5 224.1 1181.9 C222.4 1189.2 212.8 1201.6 210.6 1205.6 M166.6 1171.7 C167.7 1174.0 171.6 1179.0 173.3 1185.3 C175.0 1191.5 176.1 1205.0 176.7 1209.0 M224.1 1171.7 C228.1 1171.7 241.6 1174.5 247.8 1171.7 C254.0 1168.9 258.0 1161.0 261.3 1154.8 C264.7 1148.6 264.7 1139.3 268.1 1134.5 C271.5 1129.7 279.4 1127.4 281.7 1126.0 M261.3 1154.8 C263.6 1153.7 269.2 1150.0 274.9 1148.0 C280.5 1146.0 287.3 1145.5 295.2 1142.9 C303.1 1140.4 317.8 1134.5 322.3 1132.8 M247.8 1171.7 C248.9 1174.5 252.3 1182.4 254.6 1188.6 C256.8 1194.8 260.2 1205.6 261.3 1209.0 M295.2 1142.9 C296.3 1146.0 297.5 1156.2 302.0 1161.6 C306.5 1166.9 318.9 1172.8 322.3 1175.1 M105.6 1175.1 C103.4 1177.4 95.5 1183.0 92.1 1188.6 C88.7 1194.3 86.4 1205.6 85.3 1209.0 M125.9 1181.9 C127.1 1184.1 132.1 1190.9 132.7 1195.4 C133.3 1199.9 129.9 1206.7 129.3 1209.0" fill="none" stroke="#a9e3fc" stroke-width="2.2" stroke-linecap="round" opacity="0.9"/></g><ellipse cx="192.5" cy="1100" rx="121.5" ry="33" fill="url(#topG)"/><g clip-path="url(#topClip)"><ellipse cx="100" cy="1082" rx="16" ry="8" fill="#6aa0d0" opacity="0.45" filter="url(#blur2)"/><ellipse cx="125" cy="1120" rx="16" ry="8" fill="#6aa0d0" opacity="0.45" filter="url(#blur2)"/><ellipse cx="170" cy="1078" rx="16" ry="8" fill="#6aa0d0" opacity="0.45" filter="url(#blur2)"/><ellipse cx="195" cy="1112" rx="16" ry="8" fill="#6aa0d0" opacity="0.45" filter="url(#blur2)"/><ellipse cx="245" cy="1078" rx="16" ry="8" fill="#6aa0d0" opacity="0.45" filter="url(#blur2)"/><ellipse cx="262" cy="1118" rx="16" ry="8" fill="#6aa0d0" opacity="0.45" filter="url(#blur2)"/><ellipse cx="305" cy="1098" rx="16" ry="8" fill="#6aa0d0" opacity="0.45" filter="url(#blur2)"/><ellipse cx="200" cy="1050" rx="16" ry="8" fill="#6aa0d0" opacity="0.45" filter="url(#blur2)"/><ellipse cx="90" cy="1140" rx="16" ry="8" fill="#6aa0d0" opacity="0.45" filter="url(#blur2)"/><ellipse cx="330" cy="1140" rx="16" ry="8" fill="#6aa0d0" opacity="0.45" filter="url(#blur2)"/><path d="M68.4 1097.9 C73.5 1097.5 88.1 1095.1 98.9 1095.5 C109.6 1096.0 127.1 1099.8 132.7 1100.6 M132.7 1100.6 C133.6 1098.4 137.8 1092.2 137.8 1087.1 C137.8 1082.0 133.6 1073.0 132.7 1070.2 M132.7 1100.6 C131.9 1102.3 129.6 1106.5 127.6 1110.8 C125.7 1115.0 122.0 1123.5 120.9 1126.0 M136.8 1081.0 C141.7 1082.0 160.5 1084.9 166.6 1087.1 C172.7 1089.2 172.2 1092.7 173.3 1093.9 M173.3 1093.9 C176.7 1094.7 186.9 1099.2 193.6 1098.9 C200.4 1098.6 210.6 1093.3 214.0 1092.2 M214.0 1092.2 C215.6 1090.2 219.6 1084.3 224.1 1080.3 C228.6 1076.4 238.2 1070.4 241.0 1068.5 M214.0 1092.2 C219.6 1093.0 239.9 1097.5 247.8 1097.2 C255.7 1097.0 254.6 1092.7 261.3 1090.5 C268.1 1088.2 283.9 1084.8 288.4 1083.7 M247.8 1097.2 C248.9 1099.5 251.2 1108.0 254.6 1110.8 C258.0 1113.6 260.2 1115.0 268.1 1114.2 C276.0 1113.3 292.9 1107.7 302.0 1105.7 C311.0 1103.7 318.9 1102.9 322.3 1102.3 M173.3 1093.9 C172.2 1096.1 171.6 1103.2 166.6 1107.4 C161.5 1111.6 150.5 1116.1 142.9 1119.2 C135.2 1122.3 124.5 1124.9 120.9 1126.0 M166.6 1107.4 C169.4 1109.1 178.4 1114.2 183.5 1117.5 C188.6 1120.9 194.8 1126.0 197.0 1127.7 M268.1 1114.2 C270.4 1117.0 279.4 1128.3 281.7 1131.1 M261.3 1090.5 C260.2 1087.6 255.7 1076.4 254.6 1073.5" fill="none" stroke="#1a4a7a" stroke-width="8" opacity="0.45" stroke-linecap="round"/><path d="M68.4 1097.9 C73.5 1097.5 88.1 1095.1 98.9 1095.5 C109.6 1096.0 127.1 1099.8 132.7 1100.6 M132.7 1100.6 C133.6 1098.4 137.8 1092.2 137.8 1087.1 C137.8 1082.0 133.6 1073.0 132.7 1070.2 M132.7 1100.6 C131.9 1102.3 129.6 1106.5 127.6 1110.8 C125.7 1115.0 122.0 1123.5 120.9 1126.0 M136.8 1081.0 C141.7 1082.0 160.5 1084.9 166.6 1087.1 C172.7 1089.2 172.2 1092.7 173.3 1093.9 M173.3 1093.9 C176.7 1094.7 186.9 1099.2 193.6 1098.9 C200.4 1098.6 210.6 1093.3 214.0 1092.2 M214.0 1092.2 C215.6 1090.2 219.6 1084.3 224.1 1080.3 C228.6 1076.4 238.2 1070.4 241.0 1068.5 M214.0 1092.2 C219.6 1093.0 239.9 1097.5 247.8 1097.2 C255.7 1097.0 254.6 1092.7 261.3 1090.5 C268.1 1088.2 283.9 1084.8 288.4 1083.7 M247.8 1097.2 C248.9 1099.5 251.2 1108.0 254.6 1110.8 C258.0 1113.6 260.2 1115.0 268.1 1114.2 C276.0 1113.3 292.9 1107.7 302.0 1105.7 C311.0 1103.7 318.9 1102.9 322.3 1102.3 M173.3 1093.9 C172.2 1096.1 171.6 1103.2 166.6 1107.4 C161.5 1111.6 150.5 1116.1 142.9 1119.2 C135.2 1122.3 124.5 1124.9 120.9 1126.0 M166.6 1107.4 C169.4 1109.1 178.4 1114.2 183.5 1117.5 C188.6 1120.9 194.8 1126.0 197.0 1127.7 M268.1 1114.2 C270.4 1117.0 279.4 1128.3 281.7 1131.1 M261.3 1090.5 C260.2 1087.6 255.7 1076.4 254.6 1073.5" fill="none" stroke="#4fb6ee" stroke-width="12" opacity="0.3" filter="url(#blur2)"/><path d="M68.4 1097.9 C73.5 1097.5 88.1 1095.1 98.9 1095.5 C109.6 1096.0 127.1 1099.8 132.7 1100.6 M132.7 1100.6 C133.6 1098.4 137.8 1092.2 137.8 1087.1 C137.8 1082.0 133.6 1073.0 132.7 1070.2 M132.7 1100.6 C131.9 1102.3 129.6 1106.5 127.6 1110.8 C125.7 1115.0 122.0 1123.5 120.9 1126.0 M136.8 1081.0 C141.7 1082.0 160.5 1084.9 166.6 1087.1 C172.7 1089.2 172.2 1092.7 173.3 1093.9 M173.3 1093.9 C176.7 1094.7 186.9 1099.2 193.6 1098.9 C200.4 1098.6 210.6 1093.3 214.0 1092.2 M214.0 1092.2 C215.6 1090.2 219.6 1084.3 224.1 1080.3 C228.6 1076.4 238.2 1070.4 241.0 1068.5 M214.0 1092.2 C219.6 1093.0 239.9 1097.5 247.8 1097.2 C255.7 1097.0 254.6 1092.7 261.3 1090.5 C268.1 1088.2 283.9 1084.8 288.4 1083.7 M247.8 1097.2 C248.9 1099.5 251.2 1108.0 254.6 1110.8 C258.0 1113.6 260.2 1115.0 268.1 1114.2 C276.0 1113.3 292.9 1107.7 302.0 1105.7 C311.0 1103.7 318.9 1102.9 322.3 1102.3 M173.3 1093.9 C172.2 1096.1 171.6 1103.2 166.6 1107.4 C161.5 1111.6 150.5 1116.1 142.9 1119.2 C135.2 1122.3 124.5 1124.9 120.9 1126.0 M166.6 1107.4 C169.4 1109.1 178.4 1114.2 183.5 1117.5 C188.6 1120.9 194.8 1126.0 197.0 1127.7 M268.1 1114.2 C270.4 1117.0 279.4 1128.3 281.7 1131.1 M261.3 1090.5 C260.2 1087.6 255.7 1076.4 254.6 1073.5" fill="none" stroke="#5ec2f4" stroke-width="5" stroke-linecap="round"/><path d="M68.4 1097.9 C73.5 1097.5 88.1 1095.1 98.9 1095.5 C109.6 1096.0 127.1 1099.8 132.7 1100.6 M132.7 1100.6 C133.6 1098.4 137.8 1092.2 137.8 1087.1 C137.8 1082.0 133.6 1073.0 132.7 1070.2 M132.7 1100.6 C131.9 1102.3 129.6 1106.5 127.6 1110.8 C125.7 1115.0 122.0 1123.5 120.9 1126.0 M136.8 1081.0 C141.7 1082.0 160.5 1084.9 166.6 1087.1 C172.7 1089.2 172.2 1092.7 173.3 1093.9 M173.3 1093.9 C176.7 1094.7 186.9 1099.2 193.6 1098.9 C200.4 1098.6 210.6 1093.3 214.0 1092.2 M214.0 1092.2 C215.6 1090.2 219.6 1084.3 224.1 1080.3 C228.6 1076.4 238.2 1070.4 241.0 1068.5 M214.0 1092.2 C219.6 1093.0 239.9 1097.5 247.8 1097.2 C255.7 1097.0 254.6 1092.7 261.3 1090.5 C268.1 1088.2 283.9 1084.8 288.4 1083.7 M247.8 1097.2 C248.9 1099.5 251.2 1108.0 254.6 1110.8 C258.0 1113.6 260.2 1115.0 268.1 1114.2 C276.0 1113.3 292.9 1107.7 302.0 1105.7 C311.0 1103.7 318.9 1102.9 322.3 1102.3 M173.3 1093.9 C172.2 1096.1 171.6 1103.2 166.6 1107.4 C161.5 1111.6 150.5 1116.1 142.9 1119.2 C135.2 1122.3 124.5 1124.9 120.9 1126.0 M166.6 1107.4 C169.4 1109.1 178.4 1114.2 183.5 1117.5 C188.6 1120.9 194.8 1126.0 197.0 1127.7 M268.1 1114.2 C270.4 1117.0 279.4 1128.3 281.7 1131.1 M261.3 1090.5 C260.2 1087.6 255.7 1076.4 254.6 1073.5" fill="none" stroke="#a9e3fc" stroke-width="2.2" stroke-linecap="round" opacity="0.9"/></g><path d="M71.0 1100 V1171 A121.5 29 0 0 0 314.0 1171 V1100" fill="none" stroke="#133760" stroke-width="2"/><ellipse cx="192.5" cy="1100" rx="121.5" ry="33" fill="none" stroke="#133760" stroke-width="2"/><path d="M143 1158 Q160 1151 176 1154" fill="none" stroke="#f5a040" stroke-width="3.2"/><path d="M216 1182 Q240 1180 258 1173" fill="none" stroke="#f5a040" stroke-width="3.2"/><path d="M224 1117 Q236 1124 236 1137" fill="none" stroke="#f5a040" stroke-width="3.2"/><path d="M171 1148 L181 1154.5 L171 1161 Z" fill="#f5a040"/><path d="M253 1166 L262 1172 L255 1180 Z" fill="#f5a040"/><path d="M229.5 1134 L236 1143 L242 1133 Z" fill="#f5a040"/><circle cx="106.6" cy="1098" r="15.5" fill="url(#ionGlow)"/><circle cx="106.6" cy="1098" r="11" fill="url(#ionG)"/><text x="106.3" y="1102.3" font-size="12" font-weight="bold" fill="#fff0e0" text-anchor="middle">Li⁺</text><circle cx="152" cy="1103.6" r="15.5" fill="url(#ionGlow)"/><circle cx="152" cy="1103.6" r="11" fill="url(#ionG)"/><text x="151.7" y="1107.8999999999999" font-size="12" font-weight="bold" fill="#fff0e0" text-anchor="middle">Li⁺</text><circle cx="191.6" cy="1082.9" r="15.5" fill="url(#ionGlow)"/><circle cx="191.6" cy="1082.9" r="11" fill="url(#ionG)"/><text x="191.29999999999998" y="1087.2" font-size="12" font-weight="bold" fill="#fff0e0" text-anchor="middle">Li⁺</text><circle cx="233" cy="1088.5" r="15.5" fill="url(#ionGlow)"/><circle cx="233" cy="1088.5" r="11" fill="url(#ionG)"/><text x="232.7" y="1092.8" font-size="12" font-weight="bold" fill="#fff0e0" text-anchor="middle">Li⁺</text><circle cx="284" cy="1099.9" r="15.5" fill="url(#ionGlow)"/><circle cx="284" cy="1099.9" r="11" fill="url(#ionG)"/><text x="283.7" y="1104.2" font-size="12" font-weight="bold" fill="#fff0e0" text-anchor="middle">Li⁺</text><circle cx="206.7" cy="1115" r="15.5" fill="url(#ionGlow)"/><circle cx="206.7" cy="1115" r="11" fill="url(#ionG)"/><text x="206.39999999999998" y="1119.3" font-size="12" font-weight="bold" fill="#fff0e0" text-anchor="middle">Li⁺</text><circle cx="84" cy="1141.4" r="15.5" fill="url(#ionGlow)"/><circle cx="84" cy="1141.4" r="11" fill="url(#ionG)"/><text x="83.7" y="1145.7" font-size="12" font-weight="bold" fill="#fff0e0" text-anchor="middle">Li⁺</text><circle cx="125.5" cy="1156.5" r="15.5" fill="url(#ionGlow)"/><circle cx="125.5" cy="1156.5" r="11" fill="url(#ionG)"/><text x="125.2" y="1160.8" font-size="12" font-weight="bold" fill="#fff0e0" text-anchor="middle">Li⁺</text><circle cx="235" cy="1150.8" r="15.5" fill="url(#ionGlow)"/><circle cx="235" cy="1150.8" r="11" fill="url(#ionG)"/><text x="234.7" y="1155.1" font-size="12" font-weight="bold" fill="#fff0e0" text-anchor="middle">Li⁺</text><circle cx="278.5" cy="1162.2" r="15.5" fill="url(#ionGlow)"/><circle cx="278.5" cy="1162.2" r="11" fill="url(#ionG)"/><text x="278.2" y="1166.5" font-size="12" font-weight="bold" fill="#fff0e0" text-anchor="middle">Li⁺</text><circle cx="193.5" cy="1177.3" r="15.5" fill="url(#ionGlow)"/><circle cx="193.5" cy="1177.3" r="11" fill="url(#ionG)"/><text x="193.2" y="1181.6" font-size="12" font-weight="bold" fill="#fff0e0" text-anchor="middle">Li⁺</text>
<text x="24.54" y="1235.70" font-size="17.83" font-weight="bold" fill="#111" stroke="#111" stroke-width="0.45" textLength="266.56" lengthAdjust="spacingAndGlyphs">Minimizes grain boundary resistance</text>
<text x="289.49" y="1235.70" font-size="17.83" font-weight="normal" fill="#111" stroke="#111" stroke-width="0.35" textLength="70.17" lengthAdjust="spacingAndGlyphs">, allowing</text>
<text x="24.35" y="1256.00" font-size="17.83" font-weight="normal" fill="#111" stroke="#111" stroke-width="0.35" textLength="346.05" lengthAdjust="spacingAndGlyphs">EIS to reveal the material's true bulk performance.</text>
<rect x="399" y="942" width="344" height="41" fill="#1b5c9b"/><rect x="399" y="983" width="175" height="52" fill="url(#hdrCell)"/><rect x="574" y="983" width="169" height="52" fill="#ffffff"/><rect x="399" y="1035" width="175" height="50" fill="url(#hdrCell)"/><rect x="574" y="1035" width="169" height="50" fill="#ffffff"/><rect x="399" y="1085" width="175" height="51" fill="url(#hdrCell)"/><rect x="574" y="1085" width="169" height="51" fill="#ffffff"/><rect x="399" y="1136" width="175" height="51" fill="url(#hdrCell)"/><rect x="574" y="1136" width="169" height="51" fill="#ffffff"/><line x1="399" y1="1035" x2="743" y2="1035" stroke="#5b8dba" stroke-width="2"/><line x1="399" y1="1085" x2="743" y2="1085" stroke="#5b8dba" stroke-width="2"/><line x1="399" y1="1136" x2="743" y2="1136" stroke="#5b8dba" stroke-width="2"/><line x1="574" y1="942" x2="574" y2="983" stroke="#ffffff" stroke-width="1.5"/><line x1="574" y1="983" x2="574" y2="1187" stroke="#5b8dba" stroke-width="2"/><rect x="399" y="983" width="344" height="204" fill="none" stroke="#4d82b3" stroke-width="2"/><text x="412.41" y="969.20" font-size="18.84" font-weight="bold" fill="#ffffff" stroke="#ffffff" stroke-width="0.45" textLength="148.27" lengthAdjust="spacingAndGlyphs">Purpose of 640 MPa</text><text x="616.84" y="969.20" font-size="18.84" font-weight="bold" fill="#ffffff" stroke="#ffffff" stroke-width="0.45" textLength="83.33" lengthAdjust="spacingAndGlyphs">Key Benefit</text><text x="430.33" y="1015.50" font-size="18.26" font-weight="bold" fill="#111" stroke="#111" stroke-width="0.45" textLength="113.06" lengthAdjust="spacingAndGlyphs">Eliminate Voids</text><text x="421.42" y="1066.00" font-size="18.26" font-weight="bold" fill="#111" stroke="#111" stroke-width="0.45" textLength="130.63" lengthAdjust="spacingAndGlyphs">Maximize Contact</text><text x="429.40" y="1107.30" font-size="18.26" font-weight="bold" fill="#111" stroke="#111" stroke-width="0.45" textLength="114.78" lengthAdjust="spacingAndGlyphs">Isolate Intrinsic</text><text x="440.69" y="1125.70" font-size="18.26" font-weight="bold" fill="#111" stroke="#111" stroke-width="0.45" textLength="91.89" lengthAdjust="spacingAndGlyphs">Conductivity</text><text x="404.35" y="1167.00" font-size="18.26" font-weight="bold" fill="#111" stroke="#111" stroke-width="0.45" textLength="166.39" lengthAdjust="spacingAndGlyphs">Prevent "False Ceiling"</text><text x="585.59" y="1005.10" font-size="17.83" font-weight="normal" fill="#111" stroke="#111" stroke-width="0.35" textLength="108.47" lengthAdjust="spacingAndGlyphs">Continuous ion</text><text x="585.42" y="1023.10" font-size="17.83" font-weight="normal" fill="#111" stroke="#111" stroke-width="0.35" textLength="69.11" lengthAdjust="spacingAndGlyphs">pathways</text><text x="585.14" y="1056.00" font-size="17.83" font-weight="normal" fill="#111" stroke="#111" stroke-width="0.35" textLength="101.94" lengthAdjust="spacingAndGlyphs">Reduces grain</text><text x="585.42" y="1074.90" font-size="17.83" font-weight="normal" fill="#111" stroke="#111" stroke-width="0.35" textLength="146.81" lengthAdjust="spacingAndGlyphs">boundary resistance</text><text x="585.11" y="1107.30" font-size="17.83" font-weight="normal" fill="#111" stroke="#111" stroke-width="0.35" textLength="124.81" lengthAdjust="spacingAndGlyphs">Reflects true bulk</text><text x="585.39" y="1125.70" font-size="17.83" font-weight="normal" fill="#111" stroke="#111" stroke-width="0.35" textLength="74.92" lengthAdjust="spacingAndGlyphs">properties</text><text x="586.40" y="1158.00" font-size="17.83" font-weight="normal" fill="#111" stroke="#111" stroke-width="0.35" textLength="122.65" lengthAdjust="spacingAndGlyphs">Avoids artificially</text><text x="585.26" y="1176.90" font-size="17.83" font-weight="normal" fill="#111" stroke="#111" stroke-width="0.35" textLength="91.76" lengthAdjust="spacingAndGlyphs">low readings</text>
<path d="M418.0 1215.4Q420.6 1210.8 423.2 1215.4L440.0 1244.9Q442.6 1249.5 437.3 1249.5L403.9 1249.5Q398.6 1249.5 401.2 1244.9Z" fill="#f39b3a" stroke="#1e2633" stroke-width="2.6" stroke-linejoin="round"/><path d="M417.9 1223.5 Q420.6 1222 423.3 1223.5 L421.6 1238.5 Q420.6 1239.5 419.6 1238.5 Z" fill="#1e2633"/><circle cx="420.6" cy="1242.6" r="2.6" fill="#1e2633"/>
<text x="450.72" y="1218.60" font-size="17.39" font-weight="bold" fill="#111" stroke="#111" stroke-width="0.45" textLength="38.28" lengthAdjust="spacingAndGlyphs">RISK:</text>
<text x="492.49" y="1218.60" font-size="17.83" font-weight="normal" fill="#111" stroke="#111" stroke-width="0.35" textLength="252.75" lengthAdjust="spacingAndGlyphs">Insufficient pressure (e.g., 100 MPa)</text>
<text x="450.23" y="1236.30" font-size="17.83" font-weight="normal" fill="#111" stroke="#111" stroke-width="0.35" textLength="287.94" lengthAdjust="spacingAndGlyphs">leads to a "False Ceiling," misrepresenting</text>
<text x="450.20" y="1253.60" font-size="17.83" font-weight="normal" fill="#111" stroke="#111" stroke-width="0.35" textLength="128.96" lengthAdjust="spacingAndGlyphs">material capability.</text>
<rect x="25" y="1275" width="718" height="55" rx="9" fill="#1d5e9e"/>
<text x="43.03" y="1299.50" font-size="17.68" font-weight="bold" fill="#ffffff" stroke="#ffffff" stroke-width="0.45" textLength="681.94" lengthAdjust="spacingAndGlyphs">Achieve precise and reliable solid-state electrolyte testing with KINTEK’s high-performance</text>
<text x="67.40" y="1318.50" font-size="17.68" font-weight="bold" fill="#ffffff" stroke="#ffffff" stroke-width="0.45" textLength="632.59" lengthAdjust="spacingAndGlyphs">lab press machines. Partner with us for consistent, high-density sample preparation.</text>
<g transform="translate(264.80,1342.30) scale(0.7120,0.8235)"><path d="M9 0 H121.5 Q125.5 0 124.8 4 L122 18.5 Q121.2 23.5 116.5 23.5 H2.2 Q-0.8 23.5 0 20.5 L4.2 3.5 Q5 0 9 0Z" fill="#d6232c"/><path d="M2 23.5 H117.5 Q122.5 23.5 123.3 19 L122 25.5 Q121.5 25.5 117 25.5 H3 Z" fill="#b81f27"/><path d="M0.5 22 H116.5 Q120.3 22 121 18.2 L124.6 1.5" fill="none" stroke="#ffffff" stroke-width="1.7"/><text x="13" y="17.4" font-size="18.6" font-weight="bold" font-style="italic" fill="#fff" stroke="#fff" stroke-width="0.8" textLength="98" lengthAdjust="spacing">KINTEK</text></g>
<text x="361.29" y="1359.90" font-size="18.84" font-weight="normal" fill="#111" stroke="#111" stroke-width="0.35" textLength="142.35" lengthAdjust="spacingAndGlyphs">kinteksolution.com</text>
</svg></body></html>
